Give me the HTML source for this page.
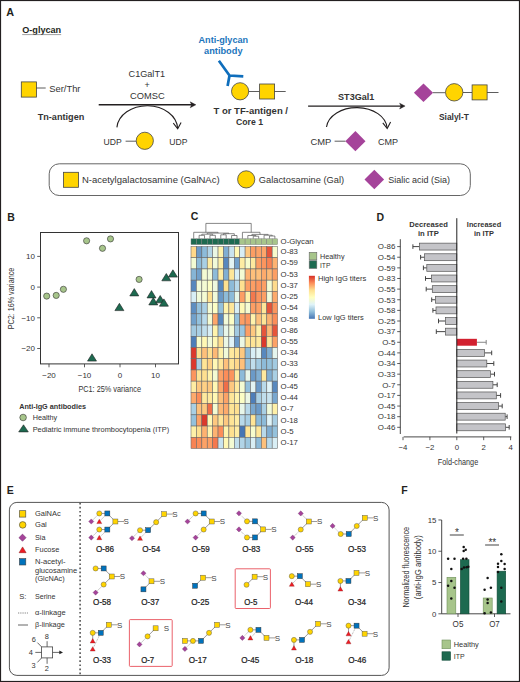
<!DOCTYPE html>
<html><head><meta charset="utf-8"><title>Figure</title>
<style>html,body{margin:0;padding:0;background:#fff;} body{width:520px;height:682px;overflow:hidden;font-family:"Liberation Sans", sans-serif;} svg{display:block;}</style>
</head><body>
<svg width="520" height="682" viewBox="0 0 520 682" font-family='"Liberation Sans", sans-serif'><rect x="0.5" y="0.5" width="519" height="681" fill="#fff" stroke="#231F20" stroke-width="1.2"/>
<text x="6.30" y="16.40" font-size="10.8" font-weight="bold" text-anchor="start" fill="#231F20" >A</text>
<text x="22.20" y="33.00" font-size="9.1" font-weight="bold" text-anchor="start" fill="#231F20" textLength="39.00" lengthAdjust="spacingAndGlyphs" >O-glycan</text>
<line x1="22.20" y1="34.60" x2="61.20" y2="34.60" stroke="#777" stroke-width="0.7" />
<rect x="21.30" y="81.90" width="15.20" height="15.20" fill="#FFD400" stroke="#444" stroke-width="0.8"/>
<line x1="36.50" y1="88.00" x2="45.70" y2="88.00" stroke="#333" stroke-width="0.8" />
<text x="49.20" y="91.50" font-size="9.4" font-weight="normal" text-anchor="start" fill="#333" textLength="31.30" lengthAdjust="spacingAndGlyphs" >Ser/Thr</text>
<text x="37.70" y="119.70" font-size="9.1" font-weight="bold" text-anchor="start" fill="#333" textLength="46.60" lengthAdjust="spacingAndGlyphs" >Tn-antigen</text>
<line x1="98.70" y1="104.80" x2="192.00" y2="104.80" stroke="#231F20" stroke-width="1.4" />
<polygon points="195.9,104.8 190.2,101.8 191.6,104.8 190.2,107.8" fill="#231F20" stroke="#231F20" stroke-width="0.4"/>
<text x="146.80" y="76.90" font-size="9.1" font-weight="normal" text-anchor="middle" fill="#333" textLength="36.50" lengthAdjust="spacingAndGlyphs" >C1GalT1</text>
<text x="147.10" y="88.30" font-size="9" font-weight="normal" text-anchor="middle" fill="#333" >+</text>
<text x="147.30" y="99.40" font-size="9.3" font-weight="normal" text-anchor="middle" fill="#333" textLength="34.60" lengthAdjust="spacingAndGlyphs" >COMSC</text>
<path d="M116.9,127.4 A30.4,23.4 0 0 1 177.6,128.3" fill="none" stroke="#231F20" stroke-width="1.1"/>
<path d="M173.3,123.2 L177.7,128.8 L181.1,122.4" fill="none" stroke="#231F20" stroke-width="1.1"/>
<text x="103.50" y="144.60" font-size="9" font-weight="normal" text-anchor="start" fill="#333" textLength="18.20" lengthAdjust="spacingAndGlyphs" >UDP</text>
<line x1="125.60" y1="141.20" x2="136.20" y2="141.20" stroke="#333" stroke-width="0.8" />
<circle cx="144.80" cy="140.80" r="8.60" fill="#FFD400" stroke="#444" stroke-width="0.8"/>
<text x="169.20" y="144.60" font-size="9" font-weight="normal" text-anchor="start" fill="#333" textLength="18.20" lengthAdjust="spacingAndGlyphs" >UDP</text>
<text x="223.30" y="42.80" font-size="9.1" font-weight="bold" text-anchor="middle" fill="#1B75BC" textLength="49.60" lengthAdjust="spacingAndGlyphs" >Anti-glycan</text>
<text x="223.30" y="53.80" font-size="9.2" font-weight="bold" text-anchor="middle" fill="#1B75BC" textLength="38.50" lengthAdjust="spacingAndGlyphs" >antibody</text>
<path d="M218.9,60.8 L229.5,75.5 L243.3,76.4 M229.5,75.5 L227.6,86.1" fill="none" stroke="#0F6EBC" stroke-width="2.7" stroke-linejoin="miter"/>
<circle cx="240.10" cy="91.30" r="8.60" fill="#FFD400" stroke="#444" stroke-width="0.8"/>
<line x1="248.70" y1="91.50" x2="259.60" y2="91.50" stroke="#333" stroke-width="0.8" />
<rect x="259.60" y="84.00" width="15.00" height="15.00" fill="#FFD400" stroke="#444" stroke-width="0.8"/>
<line x1="274.60" y1="91.50" x2="285.70" y2="91.50" stroke="#333" stroke-width="0.8" />
<text x="213.50" y="113.90" font-size="9.5" font-weight="bold" text-anchor="start" fill="#333" textLength="74.50" lengthAdjust="spacingAndGlyphs" >T or TF-antigen /</text>
<text x="236.00" y="125.40" font-size="8.7" font-weight="bold" text-anchor="start" fill="#333" textLength="27.00" lengthAdjust="spacingAndGlyphs" >Core 1</text>
<line x1="308.10" y1="106.10" x2="401.50" y2="106.10" stroke="#231F20" stroke-width="1.4" />
<polygon points="405.1,106.1 399.6,103.2 401,106.1 399.6,109" fill="#231F20" stroke="#231F20" stroke-width="0.4"/>
<text x="338.10" y="99.90" font-size="9" font-weight="bold" text-anchor="start" fill="#333" textLength="36.20" lengthAdjust="spacingAndGlyphs" >ST3Gal1</text>
<path d="M326.5,127.0 A30.4,21.6 0 0 1 387.1,128.0" fill="none" stroke="#231F20" stroke-width="1.1"/>
<path d="M382.8,122.9 L387.2,128.5 L390.6,122.1" fill="none" stroke="#231F20" stroke-width="1.1"/>
<text x="310.40" y="144.90" font-size="9.4" font-weight="normal" text-anchor="start" fill="#333" textLength="20.80" lengthAdjust="spacingAndGlyphs" >CMP</text>
<line x1="334.60" y1="141.20" x2="345.50" y2="141.20" stroke="#333" stroke-width="0.8" />
<polygon points="345.30,141.20 355.40,131.10 365.50,141.20 355.40,151.30" fill="#A5439A" stroke="none" stroke-width="0.0"/>
<text x="378.00" y="144.90" font-size="9.4" font-weight="normal" text-anchor="start" fill="#333" textLength="20.10" lengthAdjust="spacingAndGlyphs" >CMP</text>
<polygon points="413.90,92.70 423.50,83.40 433.10,92.70 423.50,102.00" fill="#A5439A" stroke="none" stroke-width="0.0"/>
<line x1="433.00" y1="92.70" x2="445.40" y2="92.70" stroke="#333" stroke-width="0.8" />
<circle cx="454.20" cy="92.30" r="8.70" fill="#FFD400" stroke="#444" stroke-width="0.8"/>
<line x1="463.00" y1="92.50" x2="472.10" y2="92.50" stroke="#333" stroke-width="0.8" />
<rect x="472.10" y="84.90" width="15.00" height="15.00" fill="#FFD400" stroke="#444" stroke-width="0.8"/>
<line x1="487.10" y1="92.50" x2="498.50" y2="92.50" stroke="#333" stroke-width="0.8" />
<text x="439.00" y="119.60" font-size="8.4" font-weight="bold" text-anchor="start" fill="#333" textLength="29.80" lengthAdjust="spacingAndGlyphs" >Sialyl-T</text>
<rect x="49.2" y="163.8" width="421.1" height="31.7" rx="10" ry="10" fill="none" stroke="#666" stroke-width="1"/>
<rect x="63.50" y="172.30" width="15.00" height="15.00" fill="#FFD400" stroke="#444" stroke-width="0.8"/>
<text x="81.90" y="183.10" font-size="9.5" font-weight="normal" text-anchor="start" fill="#333" textLength="137.70" lengthAdjust="spacingAndGlyphs" >N-acetylgalactosamine (GalNAc)</text>
<circle cx="246.20" cy="179.40" r="8.60" fill="#FFD400" stroke="#444" stroke-width="0.8"/>
<text x="258.80" y="183.10" font-size="9.3" font-weight="normal" text-anchor="start" fill="#333" textLength="85.40" lengthAdjust="spacingAndGlyphs" >Galactosamine (Gal)</text>
<polygon points="364.50,179.50 374.30,169.70 384.10,179.50 374.30,189.30" fill="#A5439A" stroke="none" stroke-width="0.0"/>
<text x="388.20" y="182.90" font-size="9.0" font-weight="normal" text-anchor="start" fill="#333" textLength="61.80" lengthAdjust="spacingAndGlyphs" >Sialic acid (Sia)</text>
<text x="7.30" y="220.60" font-size="10.5" font-weight="bold" text-anchor="start" fill="#231F20" >B</text>
<rect x="40.5" y="232.5" width="138.0" height="131.4" fill="none" stroke="#333" stroke-width="1"/>
<line x1="49.00" y1="364.00" x2="49.00" y2="367.30" stroke="#333" stroke-width="0.8" />
<text x="49.00" y="377.50" font-size="8.0" font-weight="normal" text-anchor="middle" fill="#333" >&#8722;20</text>
<line x1="84.50" y1="364.00" x2="84.50" y2="367.30" stroke="#333" stroke-width="0.8" />
<text x="84.50" y="377.50" font-size="8.0" font-weight="normal" text-anchor="middle" fill="#333" >&#8722;10</text>
<line x1="120.00" y1="364.00" x2="120.00" y2="367.30" stroke="#333" stroke-width="0.8" />
<text x="120.00" y="377.50" font-size="8.0" font-weight="normal" text-anchor="middle" fill="#333" >0</text>
<line x1="155.50" y1="364.00" x2="155.50" y2="367.30" stroke="#333" stroke-width="0.8" />
<text x="155.50" y="377.50" font-size="8.0" font-weight="normal" text-anchor="middle" fill="#333" >10</text>
<line x1="37.20" y1="256.40" x2="40.50" y2="256.40" stroke="#333" stroke-width="0.8" />
<text x="35.00" y="259.30" font-size="8.0" font-weight="normal" text-anchor="end" fill="#333" >10</text>
<line x1="37.20" y1="287.10" x2="40.50" y2="287.10" stroke="#333" stroke-width="0.8" />
<text x="35.00" y="290.00" font-size="8.0" font-weight="normal" text-anchor="end" fill="#333" >0</text>
<line x1="37.20" y1="317.80" x2="40.50" y2="317.80" stroke="#333" stroke-width="0.8" />
<text x="35.00" y="320.70" font-size="8.0" font-weight="normal" text-anchor="end" fill="#333" >&#8722;10</text>
<line x1="37.20" y1="348.50" x2="40.50" y2="348.50" stroke="#333" stroke-width="0.8" />
<text x="35.00" y="351.40" font-size="8.0" font-weight="normal" text-anchor="end" fill="#333" >&#8722;20</text>
<text x="109.70" y="392.00" font-size="8.6" font-weight="normal" text-anchor="middle" fill="#333" textLength="62.60" lengthAdjust="spacingAndGlyphs" >PC1: 25% variance</text>
<text transform="translate(14.2,298.5) rotate(-90)" x="0" y="0" font-size="8.6" text-anchor="middle" fill="#333" textLength="61.7" lengthAdjust="spacingAndGlyphs">PC2: 16% variance</text>
<circle cx="86.60" cy="240.80" r="3.10" fill="#A7C58B" stroke="#333" stroke-width="0.6"/>
<circle cx="102.50" cy="248.30" r="3.10" fill="#A7C58B" stroke="#333" stroke-width="0.6"/>
<circle cx="110.50" cy="238.90" r="3.10" fill="#A7C58B" stroke="#333" stroke-width="0.6"/>
<circle cx="46.70" cy="296.10" r="3.10" fill="#A7C58B" stroke="#333" stroke-width="0.6"/>
<circle cx="56.20" cy="295.40" r="3.10" fill="#A7C58B" stroke="#333" stroke-width="0.6"/>
<circle cx="63.40" cy="289.30" r="3.10" fill="#A7C58B" stroke="#333" stroke-width="0.6"/>
<circle cx="139.10" cy="279.40" r="3.10" fill="#A7C58B" stroke="#333" stroke-width="0.6"/>
<polygon points="92.00,353.80 96.50,361.10 87.50,361.10" fill="#1D6A50" stroke="#222" stroke-width="0.6" stroke-linejoin="miter"/>
<polygon points="119.40,303.30 123.90,310.60 114.90,310.60" fill="#1D6A50" stroke="#222" stroke-width="0.6" stroke-linejoin="miter"/>
<polygon points="134.30,288.60 138.80,295.90 129.80,295.90" fill="#1D6A50" stroke="#222" stroke-width="0.6" stroke-linejoin="miter"/>
<polygon points="151.50,290.60 156.00,297.90 147.00,297.90" fill="#1D6A50" stroke="#222" stroke-width="0.6" stroke-linejoin="miter"/>
<polygon points="153.30,297.60 157.80,304.90 148.80,304.90" fill="#1D6A50" stroke="#222" stroke-width="0.6" stroke-linejoin="miter"/>
<polygon points="160.20,295.50 164.70,302.80 155.70,302.80" fill="#1D6A50" stroke="#222" stroke-width="0.6" stroke-linejoin="miter"/>
<polygon points="163.90,298.90 168.40,306.20 159.40,306.20" fill="#1D6A50" stroke="#222" stroke-width="0.6" stroke-linejoin="miter"/>
<polygon points="166.30,273.50 170.80,280.80 161.80,280.80" fill="#1D6A50" stroke="#222" stroke-width="0.6" stroke-linejoin="miter"/>
<polygon points="172.90,269.80 177.40,277.10 168.40,277.10" fill="#1D6A50" stroke="#222" stroke-width="0.6" stroke-linejoin="miter"/>
<text x="19.20" y="408.80" font-size="7.5" font-weight="bold" text-anchor="start" fill="#333" textLength="66.80" lengthAdjust="spacingAndGlyphs" >Anti-IgG antibodies</text>
<circle cx="23.10" cy="417.50" r="3.30" fill="#A7C58B" stroke="#333" stroke-width="0.6"/>
<text x="32.70" y="420.20" font-size="7.5" font-weight="normal" text-anchor="start" fill="#333" textLength="24.50" lengthAdjust="spacingAndGlyphs" >Healthy</text>
<polygon points="23.50,424.80 28.30,431.90 18.70,431.90" fill="#1D6A50" stroke="#222" stroke-width="0.6" stroke-linejoin="miter"/>
<text x="32.70" y="431.60" font-size="7.5" font-weight="normal" text-anchor="start" fill="#333" textLength="136.50" lengthAdjust="spacingAndGlyphs" >Pediatric immune thrombocytopenia (ITP)</text>
<text x="190.80" y="220.30" font-size="10.5" font-weight="bold" text-anchor="start" fill="#231F20" >C</text>
<rect x="191.00" y="246.50" width="5.41" height="11.22" fill="#FED88A" stroke="#666" stroke-width="0.55"/>
<rect x="196.41" y="246.50" width="5.41" height="11.22" fill="#6B9AC8" stroke="#666" stroke-width="0.55"/>
<rect x="201.82" y="246.50" width="5.41" height="11.22" fill="#8DBBD9" stroke="#666" stroke-width="0.55"/>
<rect x="207.24" y="246.50" width="5.41" height="11.22" fill="#B1D4E7" stroke="#666" stroke-width="0.55"/>
<rect x="212.65" y="246.50" width="5.41" height="11.22" fill="#EBF7E4" stroke="#666" stroke-width="0.55"/>
<rect x="218.06" y="246.50" width="5.41" height="11.22" fill="#FFF3AC" stroke="#666" stroke-width="0.55"/>
<rect x="223.48" y="246.50" width="5.41" height="11.22" fill="#80AED2" stroke="#666" stroke-width="0.55"/>
<rect x="228.89" y="246.50" width="5.41" height="11.22" fill="#C8E3EF" stroke="#666" stroke-width="0.55"/>
<rect x="234.30" y="246.50" width="5.41" height="11.22" fill="#FFF8B5" stroke="#666" stroke-width="0.55"/>
<rect x="239.71" y="246.50" width="5.41" height="11.22" fill="#D8EEF5" stroke="#666" stroke-width="0.55"/>
<rect x="245.12" y="246.50" width="5.41" height="11.22" fill="#FDC880" stroke="#666" stroke-width="0.55"/>
<rect x="250.54" y="246.50" width="5.41" height="11.22" fill="#FC9E64" stroke="#666" stroke-width="0.55"/>
<rect x="255.95" y="246.50" width="5.41" height="11.22" fill="#FCA267" stroke="#666" stroke-width="0.55"/>
<rect x="261.36" y="246.50" width="5.41" height="11.22" fill="#FDA66A" stroke="#666" stroke-width="0.55"/>
<rect x="266.78" y="246.50" width="5.41" height="11.22" fill="#E6553B" stroke="#666" stroke-width="0.55"/>
<rect x="272.19" y="246.50" width="5.41" height="11.22" fill="#F7FCCD" stroke="#666" stroke-width="0.55"/>
<text x="280.60" y="254.21" font-size="7.8" font-weight="normal" text-anchor="start" fill="#333" >O-83</text>
<rect x="191.00" y="257.72" width="5.41" height="11.22" fill="#F4FBD3" stroke="#666" stroke-width="0.55"/>
<rect x="196.41" y="257.72" width="5.41" height="11.22" fill="#8DBBD9" stroke="#666" stroke-width="0.55"/>
<rect x="201.82" y="257.72" width="5.41" height="11.22" fill="#A9CFE4" stroke="#666" stroke-width="0.55"/>
<rect x="207.24" y="257.72" width="5.41" height="11.22" fill="#FEECA3" stroke="#666" stroke-width="0.55"/>
<rect x="212.65" y="257.72" width="5.41" height="11.22" fill="#F1FAD9" stroke="#666" stroke-width="0.55"/>
<rect x="218.06" y="257.72" width="5.41" height="11.22" fill="#FEF0A8" stroke="#666" stroke-width="0.55"/>
<rect x="223.48" y="257.72" width="5.41" height="11.22" fill="#5888BE" stroke="#666" stroke-width="0.55"/>
<rect x="228.89" y="257.72" width="5.41" height="11.22" fill="#E3F4F3" stroke="#666" stroke-width="0.55"/>
<rect x="234.30" y="257.72" width="5.41" height="11.22" fill="#72A1CB" stroke="#666" stroke-width="0.55"/>
<rect x="239.71" y="257.72" width="5.41" height="11.22" fill="#FEECA3" stroke="#666" stroke-width="0.55"/>
<rect x="245.12" y="257.72" width="5.41" height="11.22" fill="#F7FCCD" stroke="#666" stroke-width="0.55"/>
<rect x="250.54" y="257.72" width="5.41" height="11.22" fill="#FEE99E" stroke="#666" stroke-width="0.55"/>
<rect x="255.95" y="257.72" width="5.41" height="11.22" fill="#FC9E64" stroke="#666" stroke-width="0.55"/>
<rect x="261.36" y="257.72" width="5.41" height="11.22" fill="#FC955E" stroke="#666" stroke-width="0.55"/>
<rect x="266.78" y="257.72" width="5.41" height="11.22" fill="#F88354" stroke="#666" stroke-width="0.55"/>
<rect x="272.19" y="257.72" width="5.41" height="11.22" fill="#FDB271" stroke="#666" stroke-width="0.55"/>
<text x="280.60" y="265.43" font-size="7.8" font-weight="normal" text-anchor="start" fill="#333" >O-59</text>
<rect x="191.00" y="268.94" width="5.41" height="11.22" fill="#86B5D6" stroke="#666" stroke-width="0.55"/>
<rect x="196.41" y="268.94" width="5.41" height="11.22" fill="#72A1CB" stroke="#666" stroke-width="0.55"/>
<rect x="201.82" y="268.94" width="5.41" height="11.22" fill="#F4FBD3" stroke="#666" stroke-width="0.55"/>
<rect x="207.24" y="268.94" width="5.41" height="11.22" fill="#F1FAD9" stroke="#666" stroke-width="0.55"/>
<rect x="212.65" y="268.94" width="5.41" height="11.22" fill="#8DBBD9" stroke="#666" stroke-width="0.55"/>
<rect x="218.06" y="268.94" width="5.41" height="11.22" fill="#FEECA3" stroke="#666" stroke-width="0.55"/>
<rect x="223.48" y="268.94" width="5.41" height="11.22" fill="#80AED2" stroke="#666" stroke-width="0.55"/>
<rect x="228.89" y="268.94" width="5.41" height="11.22" fill="#FEE699" stroke="#666" stroke-width="0.55"/>
<rect x="234.30" y="268.94" width="5.41" height="11.22" fill="#D8EEF5" stroke="#666" stroke-width="0.55"/>
<rect x="239.71" y="268.94" width="5.41" height="11.22" fill="#F4FBD3" stroke="#666" stroke-width="0.55"/>
<rect x="245.12" y="268.94" width="5.41" height="11.22" fill="#FDB271" stroke="#666" stroke-width="0.55"/>
<rect x="250.54" y="268.94" width="5.41" height="11.22" fill="#FDC07B" stroke="#666" stroke-width="0.55"/>
<rect x="255.95" y="268.94" width="5.41" height="11.22" fill="#FDC07B" stroke="#666" stroke-width="0.55"/>
<rect x="261.36" y="268.94" width="5.41" height="11.22" fill="#FDAA6C" stroke="#666" stroke-width="0.55"/>
<rect x="266.78" y="268.94" width="5.41" height="11.22" fill="#FDB976" stroke="#666" stroke-width="0.55"/>
<rect x="272.19" y="268.94" width="5.41" height="11.22" fill="#FC9E64" stroke="#666" stroke-width="0.55"/>
<text x="280.60" y="276.66" font-size="7.8" font-weight="normal" text-anchor="start" fill="#333" >O-53</text>
<rect x="191.00" y="280.17" width="5.41" height="11.22" fill="#5888BE" stroke="#666" stroke-width="0.55"/>
<rect x="196.41" y="280.17" width="5.41" height="11.22" fill="#F1FAD9" stroke="#666" stroke-width="0.55"/>
<rect x="201.82" y="280.17" width="5.41" height="11.22" fill="#F4FBD3" stroke="#666" stroke-width="0.55"/>
<rect x="207.24" y="280.17" width="5.41" height="11.22" fill="#FCFEC5" stroke="#666" stroke-width="0.55"/>
<rect x="212.65" y="280.17" width="5.41" height="11.22" fill="#EEF8DE" stroke="#666" stroke-width="0.55"/>
<rect x="218.06" y="280.17" width="5.41" height="11.22" fill="#5888BE" stroke="#666" stroke-width="0.55"/>
<rect x="223.48" y="280.17" width="5.41" height="11.22" fill="#FEE090" stroke="#666" stroke-width="0.55"/>
<rect x="228.89" y="280.17" width="5.41" height="11.22" fill="#8DBBD9" stroke="#666" stroke-width="0.55"/>
<rect x="234.30" y="280.17" width="5.41" height="11.22" fill="#B8D9EA" stroke="#666" stroke-width="0.55"/>
<rect x="239.71" y="280.17" width="5.41" height="11.22" fill="#FEE090" stroke="#666" stroke-width="0.55"/>
<rect x="245.12" y="280.17" width="5.41" height="11.22" fill="#FC9E64" stroke="#666" stroke-width="0.55"/>
<rect x="250.54" y="280.17" width="5.41" height="11.22" fill="#FC9E64" stroke="#666" stroke-width="0.55"/>
<rect x="255.95" y="280.17" width="5.41" height="11.22" fill="#FC955E" stroke="#666" stroke-width="0.55"/>
<rect x="261.36" y="280.17" width="5.41" height="11.22" fill="#FC9E64" stroke="#666" stroke-width="0.55"/>
<rect x="266.78" y="280.17" width="5.41" height="11.22" fill="#F4FBD3" stroke="#666" stroke-width="0.55"/>
<rect x="272.19" y="280.17" width="5.41" height="11.22" fill="#FEDA8C" stroke="#666" stroke-width="0.55"/>
<text x="280.60" y="287.88" font-size="7.8" font-weight="normal" text-anchor="start" fill="#333" >O-37</text>
<rect x="191.00" y="291.39" width="5.41" height="11.22" fill="#D8EEF5" stroke="#666" stroke-width="0.55"/>
<rect x="196.41" y="291.39" width="5.41" height="11.22" fill="#F1FAD9" stroke="#666" stroke-width="0.55"/>
<rect x="201.82" y="291.39" width="5.41" height="11.22" fill="#F4FBD3" stroke="#666" stroke-width="0.55"/>
<rect x="207.24" y="291.39" width="5.41" height="11.22" fill="#FEE090" stroke="#666" stroke-width="0.55"/>
<rect x="212.65" y="291.39" width="5.41" height="11.22" fill="#F1FAD9" stroke="#666" stroke-width="0.55"/>
<rect x="218.06" y="291.39" width="5.41" height="11.22" fill="#6B9AC8" stroke="#666" stroke-width="0.55"/>
<rect x="223.48" y="291.39" width="5.41" height="11.22" fill="#8DBBD9" stroke="#666" stroke-width="0.55"/>
<rect x="228.89" y="291.39" width="5.41" height="11.22" fill="#8DBBD9" stroke="#666" stroke-width="0.55"/>
<rect x="234.30" y="291.39" width="5.41" height="11.22" fill="#E8F6E9" stroke="#666" stroke-width="0.55"/>
<rect x="239.71" y="291.39" width="5.41" height="11.22" fill="#FC9E64" stroke="#666" stroke-width="0.55"/>
<rect x="245.12" y="291.39" width="5.41" height="11.22" fill="#FEF0A8" stroke="#666" stroke-width="0.55"/>
<rect x="250.54" y="291.39" width="5.41" height="11.22" fill="#F4794E" stroke="#666" stroke-width="0.55"/>
<rect x="255.95" y="291.39" width="5.41" height="11.22" fill="#FC955E" stroke="#666" stroke-width="0.55"/>
<rect x="261.36" y="291.39" width="5.41" height="11.22" fill="#FC9E64" stroke="#666" stroke-width="0.55"/>
<rect x="266.78" y="291.39" width="5.41" height="11.22" fill="#F1FAD9" stroke="#666" stroke-width="0.55"/>
<rect x="272.19" y="291.39" width="5.41" height="11.22" fill="#FDAA6C" stroke="#666" stroke-width="0.55"/>
<text x="280.60" y="299.10" font-size="7.8" font-weight="normal" text-anchor="start" fill="#333" >O-25</text>
<rect x="191.00" y="302.61" width="5.41" height="11.22" fill="#5E8EC1" stroke="#666" stroke-width="0.55"/>
<rect x="196.41" y="302.61" width="5.41" height="11.22" fill="#94C1DC" stroke="#666" stroke-width="0.55"/>
<rect x="201.82" y="302.61" width="5.41" height="11.22" fill="#A9CFE4" stroke="#666" stroke-width="0.55"/>
<rect x="207.24" y="302.61" width="5.41" height="11.22" fill="#F4FBD3" stroke="#666" stroke-width="0.55"/>
<rect x="212.65" y="302.61" width="5.41" height="11.22" fill="#FCFEC5" stroke="#666" stroke-width="0.55"/>
<rect x="218.06" y="302.61" width="5.41" height="11.22" fill="#94C1DC" stroke="#666" stroke-width="0.55"/>
<rect x="223.48" y="302.61" width="5.41" height="11.22" fill="#FFF3AC" stroke="#666" stroke-width="0.55"/>
<rect x="228.89" y="302.61" width="5.41" height="11.22" fill="#FEE699" stroke="#666" stroke-width="0.55"/>
<rect x="234.30" y="302.61" width="5.41" height="11.22" fill="#D8EEF5" stroke="#666" stroke-width="0.55"/>
<rect x="239.71" y="302.61" width="5.41" height="11.22" fill="#FFF8B5" stroke="#666" stroke-width="0.55"/>
<rect x="245.12" y="302.61" width="5.41" height="11.22" fill="#F4FBD3" stroke="#666" stroke-width="0.55"/>
<rect x="250.54" y="302.61" width="5.41" height="11.22" fill="#FC9E64" stroke="#666" stroke-width="0.55"/>
<rect x="255.95" y="302.61" width="5.41" height="11.22" fill="#FCA267" stroke="#666" stroke-width="0.55"/>
<rect x="261.36" y="302.61" width="5.41" height="11.22" fill="#FEE699" stroke="#666" stroke-width="0.55"/>
<rect x="266.78" y="302.61" width="5.41" height="11.22" fill="#E6553B" stroke="#666" stroke-width="0.55"/>
<rect x="272.19" y="302.61" width="5.41" height="11.22" fill="#FC955E" stroke="#666" stroke-width="0.55"/>
<text x="280.60" y="310.32" font-size="7.8" font-weight="normal" text-anchor="start" fill="#333" >O-54</text>
<rect x="191.00" y="313.83" width="5.41" height="11.22" fill="#72A1CB" stroke="#666" stroke-width="0.55"/>
<rect x="196.41" y="313.83" width="5.41" height="11.22" fill="#94C1DC" stroke="#666" stroke-width="0.55"/>
<rect x="201.82" y="313.83" width="5.41" height="11.22" fill="#B8D9EA" stroke="#666" stroke-width="0.55"/>
<rect x="207.24" y="313.83" width="5.41" height="11.22" fill="#F4FBD3" stroke="#666" stroke-width="0.55"/>
<rect x="212.65" y="313.83" width="5.41" height="11.22" fill="#FDA66A" stroke="#666" stroke-width="0.55"/>
<rect x="218.06" y="313.83" width="5.41" height="11.22" fill="#5888BE" stroke="#666" stroke-width="0.55"/>
<rect x="223.48" y="313.83" width="5.41" height="11.22" fill="#F1FAD9" stroke="#666" stroke-width="0.55"/>
<rect x="228.89" y="313.83" width="5.41" height="11.22" fill="#FCFEC5" stroke="#666" stroke-width="0.55"/>
<rect x="234.30" y="313.83" width="5.41" height="11.22" fill="#94C1DC" stroke="#666" stroke-width="0.55"/>
<rect x="239.71" y="313.83" width="5.41" height="11.22" fill="#FC9E64" stroke="#666" stroke-width="0.55"/>
<rect x="245.12" y="313.83" width="5.41" height="11.22" fill="#FC955E" stroke="#666" stroke-width="0.55"/>
<rect x="250.54" y="313.83" width="5.41" height="11.22" fill="#FFF3AC" stroke="#666" stroke-width="0.55"/>
<rect x="255.95" y="313.83" width="5.41" height="11.22" fill="#FDC07B" stroke="#666" stroke-width="0.55"/>
<rect x="261.36" y="313.83" width="5.41" height="11.22" fill="#FEE496" stroke="#666" stroke-width="0.55"/>
<rect x="266.78" y="313.83" width="5.41" height="11.22" fill="#FDB271" stroke="#666" stroke-width="0.55"/>
<rect x="272.19" y="313.83" width="5.41" height="11.22" fill="#FC8D59" stroke="#666" stroke-width="0.55"/>
<text x="280.60" y="321.54" font-size="7.8" font-weight="normal" text-anchor="start" fill="#333" >O-58</text>
<rect x="191.00" y="325.06" width="5.41" height="11.22" fill="#A2CAE1" stroke="#666" stroke-width="0.55"/>
<rect x="196.41" y="325.06" width="5.41" height="11.22" fill="#A9CFE4" stroke="#666" stroke-width="0.55"/>
<rect x="201.82" y="325.06" width="5.41" height="11.22" fill="#C0DEEC" stroke="#666" stroke-width="0.55"/>
<rect x="207.24" y="325.06" width="5.41" height="11.22" fill="#D8EEF5" stroke="#666" stroke-width="0.55"/>
<rect x="212.65" y="325.06" width="5.41" height="11.22" fill="#FFF3AC" stroke="#666" stroke-width="0.55"/>
<rect x="218.06" y="325.06" width="5.41" height="11.22" fill="#A2CAE1" stroke="#666" stroke-width="0.55"/>
<rect x="223.48" y="325.06" width="5.41" height="11.22" fill="#E8F6E9" stroke="#666" stroke-width="0.55"/>
<rect x="228.89" y="325.06" width="5.41" height="11.22" fill="#F1FAD9" stroke="#666" stroke-width="0.55"/>
<rect x="234.30" y="325.06" width="5.41" height="11.22" fill="#A2CAE1" stroke="#666" stroke-width="0.55"/>
<rect x="239.71" y="325.06" width="5.41" height="11.22" fill="#9BC6DF" stroke="#666" stroke-width="0.55"/>
<rect x="245.12" y="325.06" width="5.41" height="11.22" fill="#FC9E64" stroke="#666" stroke-width="0.55"/>
<rect x="250.54" y="325.06" width="5.41" height="11.22" fill="#FDC880" stroke="#666" stroke-width="0.55"/>
<rect x="255.95" y="325.06" width="5.41" height="11.22" fill="#FEF0A8" stroke="#666" stroke-width="0.55"/>
<rect x="261.36" y="325.06" width="5.41" height="11.22" fill="#E6553B" stroke="#666" stroke-width="0.55"/>
<rect x="266.78" y="325.06" width="5.41" height="11.22" fill="#FDB976" stroke="#666" stroke-width="0.55"/>
<rect x="272.19" y="325.06" width="5.41" height="11.22" fill="#E6553B" stroke="#666" stroke-width="0.55"/>
<text x="280.60" y="332.77" font-size="7.8" font-weight="normal" text-anchor="start" fill="#333" >O-86</text>
<rect x="191.00" y="336.28" width="5.41" height="11.22" fill="#4E7EB9" stroke="#666" stroke-width="0.55"/>
<rect x="196.41" y="336.28" width="5.41" height="11.22" fill="#F7FCCD" stroke="#666" stroke-width="0.55"/>
<rect x="201.82" y="336.28" width="5.41" height="11.22" fill="#FFF8B5" stroke="#666" stroke-width="0.55"/>
<rect x="207.24" y="336.28" width="5.41" height="11.22" fill="#F1FAD9" stroke="#666" stroke-width="0.55"/>
<rect x="212.65" y="336.28" width="5.41" height="11.22" fill="#FFF8B5" stroke="#666" stroke-width="0.55"/>
<rect x="218.06" y="336.28" width="5.41" height="11.22" fill="#FEDD8E" stroke="#666" stroke-width="0.55"/>
<rect x="223.48" y="336.28" width="5.41" height="11.22" fill="#EBF7E4" stroke="#666" stroke-width="0.55"/>
<rect x="228.89" y="336.28" width="5.41" height="11.22" fill="#E0F3F8" stroke="#666" stroke-width="0.55"/>
<rect x="234.30" y="336.28" width="5.41" height="11.22" fill="#6B9AC8" stroke="#666" stroke-width="0.55"/>
<rect x="239.71" y="336.28" width="5.41" height="11.22" fill="#EBF7E4" stroke="#666" stroke-width="0.55"/>
<rect x="245.12" y="336.28" width="5.41" height="11.22" fill="#FEE496" stroke="#666" stroke-width="0.55"/>
<rect x="250.54" y="336.28" width="5.41" height="11.22" fill="#FEE496" stroke="#666" stroke-width="0.55"/>
<rect x="255.95" y="336.28" width="5.41" height="11.22" fill="#FEE99E" stroke="#666" stroke-width="0.55"/>
<rect x="261.36" y="336.28" width="5.41" height="11.22" fill="#DB392C" stroke="#666" stroke-width="0.55"/>
<rect x="266.78" y="336.28" width="5.41" height="11.22" fill="#FEE699" stroke="#666" stroke-width="0.55"/>
<rect x="272.19" y="336.28" width="5.41" height="11.22" fill="#FCA267" stroke="#666" stroke-width="0.55"/>
<text x="280.60" y="343.99" font-size="7.8" font-weight="normal" text-anchor="start" fill="#333" >O-55</text>
<rect x="191.00" y="347.50" width="5.41" height="11.22" fill="#DB392C" stroke="#666" stroke-width="0.55"/>
<rect x="196.41" y="347.50" width="5.41" height="11.22" fill="#FEE090" stroke="#666" stroke-width="0.55"/>
<rect x="201.82" y="347.50" width="5.41" height="11.22" fill="#FDC07B" stroke="#666" stroke-width="0.55"/>
<rect x="207.24" y="347.50" width="5.41" height="11.22" fill="#FEE090" stroke="#666" stroke-width="0.55"/>
<rect x="212.65" y="347.50" width="5.41" height="11.22" fill="#FDB976" stroke="#666" stroke-width="0.55"/>
<rect x="218.06" y="347.50" width="5.41" height="11.22" fill="#FEF0A8" stroke="#666" stroke-width="0.55"/>
<rect x="223.48" y="347.50" width="5.41" height="11.22" fill="#F1FAD9" stroke="#666" stroke-width="0.55"/>
<rect x="228.89" y="347.50" width="5.41" height="11.22" fill="#FEE99E" stroke="#666" stroke-width="0.55"/>
<rect x="234.30" y="347.50" width="5.41" height="11.22" fill="#FEE496" stroke="#666" stroke-width="0.55"/>
<rect x="239.71" y="347.50" width="5.41" height="11.22" fill="#FDC880" stroke="#666" stroke-width="0.55"/>
<rect x="245.12" y="347.50" width="5.41" height="11.22" fill="#8DBBD9" stroke="#666" stroke-width="0.55"/>
<rect x="250.54" y="347.50" width="5.41" height="11.22" fill="#D8EEF5" stroke="#666" stroke-width="0.55"/>
<rect x="255.95" y="347.50" width="5.41" height="11.22" fill="#E3F4F3" stroke="#666" stroke-width="0.55"/>
<rect x="261.36" y="347.50" width="5.41" height="11.22" fill="#5888BE" stroke="#666" stroke-width="0.55"/>
<rect x="266.78" y="347.50" width="5.41" height="11.22" fill="#80AED2" stroke="#666" stroke-width="0.55"/>
<rect x="272.19" y="347.50" width="5.41" height="11.22" fill="#E5F5EE" stroke="#666" stroke-width="0.55"/>
<text x="280.60" y="355.21" font-size="7.8" font-weight="normal" text-anchor="start" fill="#333" >O-34</text>
<rect x="191.00" y="358.72" width="5.41" height="11.22" fill="#DB392C" stroke="#666" stroke-width="0.55"/>
<rect x="196.41" y="358.72" width="5.41" height="11.22" fill="#A9CFE4" stroke="#666" stroke-width="0.55"/>
<rect x="201.82" y="358.72" width="5.41" height="11.22" fill="#FEE496" stroke="#666" stroke-width="0.55"/>
<rect x="207.24" y="358.72" width="5.41" height="11.22" fill="#FED085" stroke="#666" stroke-width="0.55"/>
<rect x="212.65" y="358.72" width="5.41" height="11.22" fill="#FFF8B5" stroke="#666" stroke-width="0.55"/>
<rect x="218.06" y="358.72" width="5.41" height="11.22" fill="#FEE699" stroke="#666" stroke-width="0.55"/>
<rect x="223.48" y="358.72" width="5.41" height="11.22" fill="#FDC07B" stroke="#666" stroke-width="0.55"/>
<rect x="228.89" y="358.72" width="5.41" height="11.22" fill="#FEE496" stroke="#666" stroke-width="0.55"/>
<rect x="234.30" y="358.72" width="5.41" height="11.22" fill="#FED88A" stroke="#666" stroke-width="0.55"/>
<rect x="239.71" y="358.72" width="5.41" height="11.22" fill="#FDC07B" stroke="#666" stroke-width="0.55"/>
<rect x="245.12" y="358.72" width="5.41" height="11.22" fill="#94C1DC" stroke="#666" stroke-width="0.55"/>
<rect x="250.54" y="358.72" width="5.41" height="11.22" fill="#C0DEEC" stroke="#666" stroke-width="0.55"/>
<rect x="255.95" y="358.72" width="5.41" height="11.22" fill="#A2CAE1" stroke="#666" stroke-width="0.55"/>
<rect x="261.36" y="358.72" width="5.41" height="11.22" fill="#8DBBD9" stroke="#666" stroke-width="0.55"/>
<rect x="266.78" y="358.72" width="5.41" height="11.22" fill="#94C1DC" stroke="#666" stroke-width="0.55"/>
<rect x="272.19" y="358.72" width="5.41" height="11.22" fill="#A2CAE1" stroke="#666" stroke-width="0.55"/>
<text x="280.60" y="366.43" font-size="7.8" font-weight="normal" text-anchor="start" fill="#333" >O-33</text>
<rect x="191.00" y="369.94" width="5.41" height="11.22" fill="#FC955E" stroke="#666" stroke-width="0.55"/>
<rect x="196.41" y="369.94" width="5.41" height="11.22" fill="#FEE496" stroke="#666" stroke-width="0.55"/>
<rect x="201.82" y="369.94" width="5.41" height="11.22" fill="#FEE090" stroke="#666" stroke-width="0.55"/>
<rect x="207.24" y="369.94" width="5.41" height="11.22" fill="#FFF3AC" stroke="#666" stroke-width="0.55"/>
<rect x="212.65" y="369.94" width="5.41" height="11.22" fill="#F4FBD3" stroke="#666" stroke-width="0.55"/>
<rect x="218.06" y="369.94" width="5.41" height="11.22" fill="#FCA267" stroke="#666" stroke-width="0.55"/>
<rect x="223.48" y="369.94" width="5.41" height="11.22" fill="#FC8D59" stroke="#666" stroke-width="0.55"/>
<rect x="228.89" y="369.94" width="5.41" height="11.22" fill="#FC955E" stroke="#666" stroke-width="0.55"/>
<rect x="234.30" y="369.94" width="5.41" height="11.22" fill="#FEECA3" stroke="#666" stroke-width="0.55"/>
<rect x="239.71" y="369.94" width="5.41" height="11.22" fill="#8DBBD9" stroke="#666" stroke-width="0.55"/>
<rect x="245.12" y="369.94" width="5.41" height="11.22" fill="#E8F6E9" stroke="#666" stroke-width="0.55"/>
<rect x="250.54" y="369.94" width="5.41" height="11.22" fill="#6B9AC8" stroke="#666" stroke-width="0.55"/>
<rect x="255.95" y="369.94" width="5.41" height="11.22" fill="#80AED2" stroke="#666" stroke-width="0.55"/>
<rect x="261.36" y="369.94" width="5.41" height="11.22" fill="#FEE99E" stroke="#666" stroke-width="0.55"/>
<rect x="266.78" y="369.94" width="5.41" height="11.22" fill="#80AED2" stroke="#666" stroke-width="0.55"/>
<rect x="272.19" y="369.94" width="5.41" height="11.22" fill="#A9CFE4" stroke="#666" stroke-width="0.55"/>
<text x="280.60" y="377.66" font-size="7.8" font-weight="normal" text-anchor="start" fill="#333" >O-46</text>
<rect x="191.00" y="381.17" width="5.41" height="11.22" fill="#FEECA3" stroke="#666" stroke-width="0.55"/>
<rect x="196.41" y="381.17" width="5.41" height="11.22" fill="#FDC880" stroke="#666" stroke-width="0.55"/>
<rect x="201.82" y="381.17" width="5.41" height="11.22" fill="#FED085" stroke="#666" stroke-width="0.55"/>
<rect x="207.24" y="381.17" width="5.41" height="11.22" fill="#FDC880" stroke="#666" stroke-width="0.55"/>
<rect x="212.65" y="381.17" width="5.41" height="11.22" fill="#FFF8B5" stroke="#666" stroke-width="0.55"/>
<rect x="218.06" y="381.17" width="5.41" height="11.22" fill="#FDAA6C" stroke="#666" stroke-width="0.55"/>
<rect x="223.48" y="381.17" width="5.41" height="11.22" fill="#F06E48" stroke="#666" stroke-width="0.55"/>
<rect x="228.89" y="381.17" width="5.41" height="11.22" fill="#FDC880" stroke="#666" stroke-width="0.55"/>
<rect x="234.30" y="381.17" width="5.41" height="11.22" fill="#FEE99E" stroke="#666" stroke-width="0.55"/>
<rect x="239.71" y="381.17" width="5.41" height="11.22" fill="#F4FBD3" stroke="#666" stroke-width="0.55"/>
<rect x="245.12" y="381.17" width="5.41" height="11.22" fill="#94C1DC" stroke="#666" stroke-width="0.55"/>
<rect x="250.54" y="381.17" width="5.41" height="11.22" fill="#E3F4F3" stroke="#666" stroke-width="0.55"/>
<rect x="255.95" y="381.17" width="5.41" height="11.22" fill="#6B9AC8" stroke="#666" stroke-width="0.55"/>
<rect x="261.36" y="381.17" width="5.41" height="11.22" fill="#B8D9EA" stroke="#666" stroke-width="0.55"/>
<rect x="266.78" y="381.17" width="5.41" height="11.22" fill="#E0F3F8" stroke="#666" stroke-width="0.55"/>
<rect x="272.19" y="381.17" width="5.41" height="11.22" fill="#5888BE" stroke="#666" stroke-width="0.55"/>
<text x="280.60" y="388.88" font-size="7.8" font-weight="normal" text-anchor="start" fill="#333" >O-45</text>
<rect x="191.00" y="392.39" width="5.41" height="11.22" fill="#FDAA6C" stroke="#666" stroke-width="0.55"/>
<rect x="196.41" y="392.39" width="5.41" height="11.22" fill="#FC8D59" stroke="#666" stroke-width="0.55"/>
<rect x="201.82" y="392.39" width="5.41" height="11.22" fill="#FEE99E" stroke="#666" stroke-width="0.55"/>
<rect x="207.24" y="392.39" width="5.41" height="11.22" fill="#FEE99E" stroke="#666" stroke-width="0.55"/>
<rect x="212.65" y="392.39" width="5.41" height="11.22" fill="#FFF8B5" stroke="#666" stroke-width="0.55"/>
<rect x="218.06" y="392.39" width="5.41" height="11.22" fill="#FDC07B" stroke="#666" stroke-width="0.55"/>
<rect x="223.48" y="392.39" width="5.41" height="11.22" fill="#FCA267" stroke="#666" stroke-width="0.55"/>
<rect x="228.89" y="392.39" width="5.41" height="11.22" fill="#FEE699" stroke="#666" stroke-width="0.55"/>
<rect x="234.30" y="392.39" width="5.41" height="11.22" fill="#FFF3AC" stroke="#666" stroke-width="0.55"/>
<rect x="239.71" y="392.39" width="5.41" height="11.22" fill="#FCFEC5" stroke="#666" stroke-width="0.55"/>
<rect x="245.12" y="392.39" width="5.41" height="11.22" fill="#EBF7E4" stroke="#666" stroke-width="0.55"/>
<rect x="250.54" y="392.39" width="5.41" height="11.22" fill="#4E7EB9" stroke="#666" stroke-width="0.55"/>
<rect x="255.95" y="392.39" width="5.41" height="11.22" fill="#A9CFE4" stroke="#666" stroke-width="0.55"/>
<rect x="261.36" y="392.39" width="5.41" height="11.22" fill="#C0DEEC" stroke="#666" stroke-width="0.55"/>
<rect x="266.78" y="392.39" width="5.41" height="11.22" fill="#C8E3EF" stroke="#666" stroke-width="0.55"/>
<rect x="272.19" y="392.39" width="5.41" height="11.22" fill="#79A7CF" stroke="#666" stroke-width="0.55"/>
<text x="280.60" y="400.10" font-size="7.8" font-weight="normal" text-anchor="start" fill="#333" >O-44</text>
<rect x="191.00" y="403.61" width="5.41" height="11.22" fill="#A9CFE4" stroke="#666" stroke-width="0.55"/>
<rect x="196.41" y="403.61" width="5.41" height="11.22" fill="#FDC07B" stroke="#666" stroke-width="0.55"/>
<rect x="201.82" y="403.61" width="5.41" height="11.22" fill="#FDC880" stroke="#666" stroke-width="0.55"/>
<rect x="207.24" y="403.61" width="5.41" height="11.22" fill="#F06E48" stroke="#666" stroke-width="0.55"/>
<rect x="212.65" y="403.61" width="5.41" height="11.22" fill="#F4FBD3" stroke="#666" stroke-width="0.55"/>
<rect x="218.06" y="403.61" width="5.41" height="11.22" fill="#FDB976" stroke="#666" stroke-width="0.55"/>
<rect x="223.48" y="403.61" width="5.41" height="11.22" fill="#FDAA6C" stroke="#666" stroke-width="0.55"/>
<rect x="228.89" y="403.61" width="5.41" height="11.22" fill="#FEE496" stroke="#666" stroke-width="0.55"/>
<rect x="234.30" y="403.61" width="5.41" height="11.22" fill="#FEE090" stroke="#666" stroke-width="0.55"/>
<rect x="239.71" y="403.61" width="5.41" height="11.22" fill="#E8F6E9" stroke="#666" stroke-width="0.55"/>
<rect x="245.12" y="403.61" width="5.41" height="11.22" fill="#B8D9EA" stroke="#666" stroke-width="0.55"/>
<rect x="250.54" y="403.61" width="5.41" height="11.22" fill="#79A7CF" stroke="#666" stroke-width="0.55"/>
<rect x="255.95" y="403.61" width="5.41" height="11.22" fill="#6B9AC8" stroke="#666" stroke-width="0.55"/>
<rect x="261.36" y="403.61" width="5.41" height="11.22" fill="#A9CFE4" stroke="#666" stroke-width="0.55"/>
<rect x="266.78" y="403.61" width="5.41" height="11.22" fill="#F1FAD9" stroke="#666" stroke-width="0.55"/>
<rect x="272.19" y="403.61" width="5.41" height="11.22" fill="#FEF0A8" stroke="#666" stroke-width="0.55"/>
<text x="280.60" y="411.32" font-size="7.8" font-weight="normal" text-anchor="start" fill="#333" >O-7</text>
<rect x="191.00" y="414.83" width="5.41" height="11.22" fill="#94C1DC" stroke="#666" stroke-width="0.55"/>
<rect x="196.41" y="414.83" width="5.41" height="11.22" fill="#FCA267" stroke="#666" stroke-width="0.55"/>
<rect x="201.82" y="414.83" width="5.41" height="11.22" fill="#DB392C" stroke="#666" stroke-width="0.55"/>
<rect x="207.24" y="414.83" width="5.41" height="11.22" fill="#FFF8B5" stroke="#666" stroke-width="0.55"/>
<rect x="212.65" y="414.83" width="5.41" height="11.22" fill="#FDC880" stroke="#666" stroke-width="0.55"/>
<rect x="218.06" y="414.83" width="5.41" height="11.22" fill="#FEE699" stroke="#666" stroke-width="0.55"/>
<rect x="223.48" y="414.83" width="5.41" height="11.22" fill="#FDC880" stroke="#666" stroke-width="0.55"/>
<rect x="228.89" y="414.83" width="5.41" height="11.22" fill="#FEE496" stroke="#666" stroke-width="0.55"/>
<rect x="234.30" y="414.83" width="5.41" height="11.22" fill="#FEECA3" stroke="#666" stroke-width="0.55"/>
<rect x="239.71" y="414.83" width="5.41" height="11.22" fill="#B8D9EA" stroke="#666" stroke-width="0.55"/>
<rect x="245.12" y="414.83" width="5.41" height="11.22" fill="#A9CFE4" stroke="#666" stroke-width="0.55"/>
<rect x="250.54" y="414.83" width="5.41" height="11.22" fill="#FEE496" stroke="#666" stroke-width="0.55"/>
<rect x="255.95" y="414.83" width="5.41" height="11.22" fill="#8DBBD9" stroke="#666" stroke-width="0.55"/>
<rect x="261.36" y="414.83" width="5.41" height="11.22" fill="#8DBBD9" stroke="#666" stroke-width="0.55"/>
<rect x="266.78" y="414.83" width="5.41" height="11.22" fill="#E0F3F8" stroke="#666" stroke-width="0.55"/>
<rect x="272.19" y="414.83" width="5.41" height="11.22" fill="#A9CFE4" stroke="#666" stroke-width="0.55"/>
<text x="280.60" y="422.54" font-size="7.8" font-weight="normal" text-anchor="start" fill="#333" >O-18</text>
<rect x="191.00" y="426.06" width="5.41" height="11.22" fill="#FEF0A8" stroke="#666" stroke-width="0.55"/>
<rect x="196.41" y="426.06" width="5.41" height="11.22" fill="#FEE090" stroke="#666" stroke-width="0.55"/>
<rect x="201.82" y="426.06" width="5.41" height="11.22" fill="#FDB271" stroke="#666" stroke-width="0.55"/>
<rect x="207.24" y="426.06" width="5.41" height="11.22" fill="#FFF3AC" stroke="#666" stroke-width="0.55"/>
<rect x="212.65" y="426.06" width="5.41" height="11.22" fill="#FDB271" stroke="#666" stroke-width="0.55"/>
<rect x="218.06" y="426.06" width="5.41" height="11.22" fill="#FC8D59" stroke="#666" stroke-width="0.55"/>
<rect x="223.48" y="426.06" width="5.41" height="11.22" fill="#FFF3AC" stroke="#666" stroke-width="0.55"/>
<rect x="228.89" y="426.06" width="5.41" height="11.22" fill="#FEE090" stroke="#666" stroke-width="0.55"/>
<rect x="234.30" y="426.06" width="5.41" height="11.22" fill="#FEECA3" stroke="#666" stroke-width="0.55"/>
<rect x="239.71" y="426.06" width="5.41" height="11.22" fill="#4575B4" stroke="#666" stroke-width="0.55"/>
<rect x="245.12" y="426.06" width="5.41" height="11.22" fill="#FEE496" stroke="#666" stroke-width="0.55"/>
<rect x="250.54" y="426.06" width="5.41" height="11.22" fill="#F7FCCD" stroke="#666" stroke-width="0.55"/>
<rect x="255.95" y="426.06" width="5.41" height="11.22" fill="#FEE699" stroke="#666" stroke-width="0.55"/>
<rect x="261.36" y="426.06" width="5.41" height="11.22" fill="#B8D9EA" stroke="#666" stroke-width="0.55"/>
<rect x="266.78" y="426.06" width="5.41" height="11.22" fill="#80AED2" stroke="#666" stroke-width="0.55"/>
<rect x="272.19" y="426.06" width="5.41" height="11.22" fill="#94C1DC" stroke="#666" stroke-width="0.55"/>
<text x="280.60" y="433.77" font-size="7.8" font-weight="normal" text-anchor="start" fill="#333" >O-5</text>
<rect x="191.00" y="437.28" width="5.41" height="11.22" fill="#F88354" stroke="#666" stroke-width="0.55"/>
<rect x="196.41" y="437.28" width="5.41" height="11.22" fill="#FC8D59" stroke="#666" stroke-width="0.55"/>
<rect x="201.82" y="437.28" width="5.41" height="11.22" fill="#FCA267" stroke="#666" stroke-width="0.55"/>
<rect x="207.24" y="437.28" width="5.41" height="11.22" fill="#FC9E64" stroke="#666" stroke-width="0.55"/>
<rect x="212.65" y="437.28" width="5.41" height="11.22" fill="#F4794E" stroke="#666" stroke-width="0.55"/>
<rect x="218.06" y="437.28" width="5.41" height="11.22" fill="#C8E3EF" stroke="#666" stroke-width="0.55"/>
<rect x="223.48" y="437.28" width="5.41" height="11.22" fill="#FFF8B5" stroke="#666" stroke-width="0.55"/>
<rect x="228.89" y="437.28" width="5.41" height="11.22" fill="#F4FBD3" stroke="#666" stroke-width="0.55"/>
<rect x="234.30" y="437.28" width="5.41" height="11.22" fill="#C0DEEC" stroke="#666" stroke-width="0.55"/>
<rect x="239.71" y="437.28" width="5.41" height="11.22" fill="#B1D4E7" stroke="#666" stroke-width="0.55"/>
<rect x="245.12" y="437.28" width="5.41" height="11.22" fill="#9BC6DF" stroke="#666" stroke-width="0.55"/>
<rect x="250.54" y="437.28" width="5.41" height="11.22" fill="#D8EEF5" stroke="#666" stroke-width="0.55"/>
<rect x="255.95" y="437.28" width="5.41" height="11.22" fill="#8DBBD9" stroke="#666" stroke-width="0.55"/>
<rect x="261.36" y="437.28" width="5.41" height="11.22" fill="#FDC07B" stroke="#666" stroke-width="0.55"/>
<rect x="266.78" y="437.28" width="5.41" height="11.22" fill="#B8D9EA" stroke="#666" stroke-width="0.55"/>
<rect x="272.19" y="437.28" width="5.41" height="11.22" fill="#D8EEF5" stroke="#666" stroke-width="0.55"/>
<text x="280.60" y="444.99" font-size="7.8" font-weight="normal" text-anchor="start" fill="#333" >O-17</text>
<rect x="191.00" y="238.8" width="5.41" height="5.8" fill="#1D6A50" stroke="#7a7a7a" stroke-width="0.45"/>
<rect x="196.41" y="238.8" width="5.41" height="5.8" fill="#1D6A50" stroke="#7a7a7a" stroke-width="0.45"/>
<rect x="201.82" y="238.8" width="5.41" height="5.8" fill="#1D6A50" stroke="#7a7a7a" stroke-width="0.45"/>
<rect x="207.24" y="238.8" width="5.41" height="5.8" fill="#1D6A50" stroke="#7a7a7a" stroke-width="0.45"/>
<rect x="212.65" y="238.8" width="5.41" height="5.8" fill="#1D6A50" stroke="#7a7a7a" stroke-width="0.45"/>
<rect x="218.06" y="238.8" width="5.41" height="5.8" fill="#1D6A50" stroke="#7a7a7a" stroke-width="0.45"/>
<rect x="223.48" y="238.8" width="5.41" height="5.8" fill="#1D6A50" stroke="#7a7a7a" stroke-width="0.45"/>
<rect x="228.89" y="238.8" width="5.41" height="5.8" fill="#1D6A50" stroke="#7a7a7a" stroke-width="0.45"/>
<rect x="234.30" y="238.8" width="5.41" height="5.8" fill="#1D6A50" stroke="#7a7a7a" stroke-width="0.45"/>
<rect x="239.71" y="238.8" width="5.41" height="5.8" fill="#A7C58B" stroke="#7a7a7a" stroke-width="0.45"/>
<rect x="245.12" y="238.8" width="5.41" height="5.8" fill="#A7C58B" stroke="#7a7a7a" stroke-width="0.45"/>
<rect x="250.54" y="238.8" width="5.41" height="5.8" fill="#A7C58B" stroke="#7a7a7a" stroke-width="0.45"/>
<rect x="255.95" y="238.8" width="5.41" height="5.8" fill="#A7C58B" stroke="#7a7a7a" stroke-width="0.45"/>
<rect x="261.36" y="238.8" width="5.41" height="5.8" fill="#A7C58B" stroke="#7a7a7a" stroke-width="0.45"/>
<rect x="266.78" y="238.8" width="5.41" height="5.8" fill="#A7C58B" stroke="#7a7a7a" stroke-width="0.45"/>
<rect x="272.19" y="238.8" width="5.41" height="5.8" fill="#A7C58B" stroke="#7a7a7a" stroke-width="0.45"/>
<text x="280.60" y="244.00" font-size="7.7" font-weight="normal" text-anchor="start" fill="#333" textLength="33.00" lengthAdjust="spacingAndGlyphs" >O-Glycan</text>
<path d="M199.12,238.60L199.12,235.30 M199.12,235.30L204.53,235.30 M204.53,235.30L204.53,238.60 M209.94,238.60L209.94,235.30 M209.94,235.30L215.36,235.30 M215.36,235.30L215.36,238.60 M201.82,235.30L201.82,234.20 M201.82,234.20L212.65,234.20 M212.65,234.20L212.65,235.30 M220.77,238.60L220.77,234.80 M220.77,234.80L226.18,234.80 M226.18,234.80L226.18,238.60 M231.59,238.60L231.59,235.50 M231.59,235.50L237.01,235.50 M237.01,235.50L237.01,238.60 M223.48,234.80L223.48,233.70 M223.48,233.70L234.30,233.70 M234.30,233.70L234.30,235.50 M207.24,234.20L207.24,233.10 M207.24,233.10L228.89,233.10 M228.89,233.10L228.89,233.70 M193.71,238.60L193.71,232.30 M193.71,232.30L218.06,232.30 M218.06,232.30L218.06,233.10 M253.24,238.60L253.24,236.20 M253.24,236.20L258.66,236.20 M258.66,236.20L258.66,238.60 M247.83,238.60L247.83,235.50 M247.83,235.50L255.95,235.50 M255.95,235.50L255.95,236.20 M269.48,238.60L269.48,236.00 M269.48,236.00L274.89,236.00 M274.89,236.00L274.89,238.60 M264.07,238.60L264.07,235.20 M264.07,235.20L272.19,235.20 M272.19,235.20L272.19,236.00 M251.89,235.50L251.89,234.40 M251.89,234.40L268.13,234.40 M268.13,234.40L268.13,235.20 M242.42,238.60L242.42,232.30 M242.42,232.30L260.01,232.30 M260.01,232.30L260.01,234.40 M205.88,232.30L205.88,223.40 M205.88,223.40L251.21,223.40 M251.21,223.40L251.21,232.30" fill="none" stroke="#555" stroke-width="0.7"/>
<rect x="309.2" y="252.3" width="7.6" height="7.6" fill="#A7C58B" stroke="#666" stroke-width="0.6"/>
<rect x="309.2" y="260.8" width="7.6" height="7.6" fill="#1D6A50" stroke="#666" stroke-width="0.6"/>
<text x="320.00" y="259.00" font-size="7.7" font-weight="normal" text-anchor="start" fill="#333" textLength="24.50" lengthAdjust="spacingAndGlyphs" >Healthy</text>
<text x="320.00" y="267.50" font-size="7.7" font-weight="normal" text-anchor="start" fill="#333" textLength="10.50" lengthAdjust="spacingAndGlyphs" >ITP</text>
<defs><linearGradient id="hg" x1="0" y1="0" x2="0" y2="1"><stop offset="0" stop-color="#D73027"/><stop offset="0.1667" stop-color="#FC8D59"/><stop offset="0.3333" stop-color="#FEE090"/><stop offset="0.5" stop-color="#FFFFBF"/><stop offset="0.6667" stop-color="#E0F3F8"/><stop offset="0.8333" stop-color="#91BFDB"/><stop offset="1" stop-color="#4575B4"/></linearGradient></defs>
<rect x="308.9" y="275.8" width="6" height="43" fill="url(#hg)"/>
<text x="318.00" y="280.90" font-size="7.5" font-weight="normal" text-anchor="start" fill="#333" textLength="48.20" lengthAdjust="spacingAndGlyphs" >High IgG titers</text>
<text x="318.00" y="319.60" font-size="7.5" font-weight="normal" text-anchor="start" fill="#333" textLength="45.80" lengthAdjust="spacingAndGlyphs" >Low IgG titers</text>
<text x="376.60" y="220.60" font-size="10.5" font-weight="bold" text-anchor="start" fill="#231F20" >D</text>
<text x="428.60" y="227.30" font-size="7.8" font-weight="bold" text-anchor="middle" fill="#333" textLength="38.50" lengthAdjust="spacingAndGlyphs" >Decreased</text>
<text x="428.40" y="236.20" font-size="7.8" font-weight="bold" text-anchor="middle" fill="#333" textLength="20.80" lengthAdjust="spacingAndGlyphs" >in ITP</text>
<text x="484.00" y="227.00" font-size="7.8" font-weight="bold" text-anchor="middle" fill="#333" textLength="34.30" lengthAdjust="spacingAndGlyphs" >Increased</text>
<text x="484.00" y="236.20" font-size="7.8" font-weight="bold" text-anchor="middle" fill="#333" textLength="20.10" lengthAdjust="spacingAndGlyphs" >in ITP</text>
<line x1="400.30" y1="239.20" x2="400.30" y2="434.00" stroke="#333" stroke-width="0.9" />
<line x1="397.20" y1="246.60" x2="400.30" y2="246.60" stroke="#333" stroke-width="0.8" />
<text x="395.40" y="249.40" font-size="7.9" font-weight="normal" text-anchor="end" fill="#333" >O-86</text>
<line x1="419.40" y1="246.60" x2="412.90" y2="246.60" stroke="#3a3a3a" stroke-width="0.95" />
<line x1="412.90" y1="244.30" x2="412.90" y2="248.90" stroke="#3a3a3a" stroke-width="0.95" />
<rect x="419.40" y="243.15" width="37.40" height="6.9" fill="#C4C4C8" stroke="#555" stroke-width="0.7"/>
<line x1="397.20" y1="257.23" x2="400.30" y2="257.23" stroke="#333" stroke-width="0.8" />
<text x="395.40" y="260.03" font-size="7.9" font-weight="normal" text-anchor="end" fill="#333" >O-54</text>
<line x1="424.60" y1="257.23" x2="420.60" y2="257.23" stroke="#3a3a3a" stroke-width="0.95" />
<line x1="420.60" y1="254.93" x2="420.60" y2="259.53" stroke="#3a3a3a" stroke-width="0.95" />
<rect x="424.60" y="253.78" width="32.20" height="6.9" fill="#C4C4C8" stroke="#555" stroke-width="0.7"/>
<line x1="397.20" y1="267.86" x2="400.30" y2="267.86" stroke="#333" stroke-width="0.8" />
<text x="395.40" y="270.66" font-size="7.9" font-weight="normal" text-anchor="end" fill="#333" >O-59</text>
<line x1="426.80" y1="267.86" x2="423.40" y2="267.86" stroke="#3a3a3a" stroke-width="0.95" />
<line x1="423.40" y1="265.56" x2="423.40" y2="270.16" stroke="#3a3a3a" stroke-width="0.95" />
<rect x="426.80" y="264.41" width="30.00" height="6.9" fill="#C4C4C8" stroke="#555" stroke-width="0.7"/>
<line x1="397.20" y1="278.49" x2="400.30" y2="278.49" stroke="#333" stroke-width="0.8" />
<text x="395.40" y="281.29" font-size="7.9" font-weight="normal" text-anchor="end" fill="#333" >O-83</text>
<line x1="431.40" y1="278.49" x2="425.50" y2="278.49" stroke="#3a3a3a" stroke-width="0.95" />
<line x1="425.50" y1="276.19" x2="425.50" y2="280.79" stroke="#3a3a3a" stroke-width="0.95" />
<rect x="431.40" y="275.04" width="25.40" height="6.9" fill="#C4C4C8" stroke="#555" stroke-width="0.7"/>
<line x1="397.20" y1="289.12" x2="400.30" y2="289.12" stroke="#333" stroke-width="0.8" />
<text x="395.40" y="291.92" font-size="7.9" font-weight="normal" text-anchor="end" fill="#333" >O-55</text>
<line x1="432.30" y1="289.12" x2="426.20" y2="289.12" stroke="#3a3a3a" stroke-width="0.95" />
<line x1="426.20" y1="286.82" x2="426.20" y2="291.42" stroke="#3a3a3a" stroke-width="0.95" />
<rect x="432.30" y="285.67" width="24.50" height="6.9" fill="#C4C4C8" stroke="#555" stroke-width="0.7"/>
<line x1="397.20" y1="299.75" x2="400.30" y2="299.75" stroke="#333" stroke-width="0.8" />
<text x="395.40" y="302.55" font-size="7.9" font-weight="normal" text-anchor="end" fill="#333" >O-53</text>
<line x1="435.40" y1="299.75" x2="431.70" y2="299.75" stroke="#3a3a3a" stroke-width="0.95" />
<line x1="431.70" y1="297.45" x2="431.70" y2="302.05" stroke="#3a3a3a" stroke-width="0.95" />
<rect x="435.40" y="296.30" width="21.40" height="6.9" fill="#C4C4C8" stroke="#555" stroke-width="0.7"/>
<line x1="397.20" y1="310.38" x2="400.30" y2="310.38" stroke="#333" stroke-width="0.8" />
<text x="395.40" y="313.18" font-size="7.9" font-weight="normal" text-anchor="end" fill="#333" >O-58</text>
<line x1="436.00" y1="310.38" x2="432.90" y2="310.38" stroke="#3a3a3a" stroke-width="0.95" />
<line x1="432.90" y1="308.08" x2="432.90" y2="312.68" stroke="#3a3a3a" stroke-width="0.95" />
<rect x="436.00" y="306.93" width="20.80" height="6.9" fill="#C4C4C8" stroke="#555" stroke-width="0.7"/>
<line x1="397.20" y1="321.01" x2="400.30" y2="321.01" stroke="#333" stroke-width="0.8" />
<text x="395.40" y="323.81" font-size="7.9" font-weight="normal" text-anchor="end" fill="#333" >O-25</text>
<line x1="445.50" y1="321.01" x2="438.50" y2="321.01" stroke="#3a3a3a" stroke-width="0.95" />
<line x1="438.50" y1="318.71" x2="438.50" y2="323.31" stroke="#3a3a3a" stroke-width="0.95" />
<rect x="445.50" y="317.56" width="11.30" height="6.9" fill="#C4C4C8" stroke="#555" stroke-width="0.7"/>
<line x1="397.20" y1="331.64" x2="400.30" y2="331.64" stroke="#333" stroke-width="0.8" />
<text x="395.40" y="334.44" font-size="7.9" font-weight="normal" text-anchor="end" fill="#333" >O-37</text>
<line x1="445.50" y1="331.64" x2="436.30" y2="331.64" stroke="#3a3a3a" stroke-width="0.95" />
<line x1="436.30" y1="329.34" x2="436.30" y2="333.94" stroke="#3a3a3a" stroke-width="0.95" />
<rect x="445.50" y="328.19" width="11.30" height="6.9" fill="#C4C4C8" stroke="#555" stroke-width="0.7"/>
<line x1="397.20" y1="342.27" x2="400.30" y2="342.27" stroke="#333" stroke-width="0.8" />
<text x="395.40" y="345.07" font-size="7.9" font-weight="normal" text-anchor="end" fill="#333" >O-5</text>
<line x1="476.90" y1="342.27" x2="486.20" y2="342.27" stroke="#808080" stroke-width="0.95" />
<line x1="486.20" y1="339.97" x2="486.20" y2="344.57" stroke="#808080" stroke-width="0.95" />
<rect x="456.80" y="338.82" width="20.10" height="6.9" fill="#D2202F"/>
<line x1="397.20" y1="352.90" x2="400.30" y2="352.90" stroke="#333" stroke-width="0.8" />
<text x="395.40" y="355.70" font-size="7.9" font-weight="normal" text-anchor="end" fill="#333" >O-44</text>
<line x1="484.60" y1="352.90" x2="491.70" y2="352.90" stroke="#3a3a3a" stroke-width="0.95" />
<line x1="491.70" y1="350.60" x2="491.70" y2="355.20" stroke="#3a3a3a" stroke-width="0.95" />
<rect x="456.80" y="349.45" width="27.80" height="6.9" fill="#C4C4C8" stroke="#555" stroke-width="0.7"/>
<line x1="397.20" y1="363.53" x2="400.30" y2="363.53" stroke="#333" stroke-width="0.8" />
<text x="395.40" y="366.33" font-size="7.9" font-weight="normal" text-anchor="end" fill="#333" >O-34</text>
<line x1="486.80" y1="363.53" x2="493.80" y2="363.53" stroke="#3a3a3a" stroke-width="0.95" />
<line x1="493.80" y1="361.23" x2="493.80" y2="365.83" stroke="#3a3a3a" stroke-width="0.95" />
<rect x="456.80" y="360.08" width="30.00" height="6.9" fill="#C4C4C8" stroke="#555" stroke-width="0.7"/>
<line x1="397.20" y1="374.16" x2="400.30" y2="374.16" stroke="#333" stroke-width="0.8" />
<text x="395.40" y="376.96" font-size="7.9" font-weight="normal" text-anchor="end" fill="#333" >O-33</text>
<line x1="490.50" y1="374.16" x2="494.50" y2="374.16" stroke="#3a3a3a" stroke-width="0.95" />
<line x1="494.50" y1="371.86" x2="494.50" y2="376.46" stroke="#3a3a3a" stroke-width="0.95" />
<rect x="456.80" y="370.71" width="33.70" height="6.9" fill="#C4C4C8" stroke="#555" stroke-width="0.7"/>
<line x1="397.20" y1="384.79" x2="400.30" y2="384.79" stroke="#333" stroke-width="0.8" />
<text x="395.40" y="387.59" font-size="7.9" font-weight="normal" text-anchor="end" fill="#333" >O-7</text>
<line x1="492.90" y1="384.79" x2="497.20" y2="384.79" stroke="#3a3a3a" stroke-width="0.95" />
<line x1="497.20" y1="382.49" x2="497.20" y2="387.09" stroke="#3a3a3a" stroke-width="0.95" />
<rect x="456.80" y="381.34" width="36.10" height="6.9" fill="#C4C4C8" stroke="#555" stroke-width="0.7"/>
<line x1="397.20" y1="395.42" x2="400.30" y2="395.42" stroke="#333" stroke-width="0.8" />
<text x="395.40" y="398.22" font-size="7.9" font-weight="normal" text-anchor="end" fill="#333" >O-17</text>
<line x1="496.30" y1="395.42" x2="500.60" y2="395.42" stroke="#3a3a3a" stroke-width="0.95" />
<line x1="500.60" y1="393.12" x2="500.60" y2="397.72" stroke="#3a3a3a" stroke-width="0.95" />
<rect x="456.80" y="391.97" width="39.50" height="6.9" fill="#C4C4C8" stroke="#555" stroke-width="0.7"/>
<line x1="397.20" y1="406.05" x2="400.30" y2="406.05" stroke="#333" stroke-width="0.8" />
<text x="395.40" y="408.85" font-size="7.9" font-weight="normal" text-anchor="end" fill="#333" >O-45</text>
<line x1="498.50" y1="406.05" x2="502.20" y2="406.05" stroke="#3a3a3a" stroke-width="0.95" />
<line x1="502.20" y1="403.75" x2="502.20" y2="408.35" stroke="#3a3a3a" stroke-width="0.95" />
<rect x="456.80" y="402.60" width="41.70" height="6.9" fill="#C4C4C8" stroke="#555" stroke-width="0.7"/>
<line x1="397.20" y1="416.68" x2="400.30" y2="416.68" stroke="#333" stroke-width="0.8" />
<text x="395.40" y="419.48" font-size="7.9" font-weight="normal" text-anchor="end" fill="#333" >O-18</text>
<line x1="505.20" y1="416.68" x2="507.10" y2="416.68" stroke="#3a3a3a" stroke-width="0.95" />
<line x1="507.10" y1="414.38" x2="507.10" y2="418.98" stroke="#3a3a3a" stroke-width="0.95" />
<rect x="456.80" y="413.23" width="48.40" height="6.9" fill="#C4C4C8" stroke="#555" stroke-width="0.7"/>
<line x1="397.20" y1="427.31" x2="400.30" y2="427.31" stroke="#333" stroke-width="0.8" />
<text x="395.40" y="430.11" font-size="7.9" font-weight="normal" text-anchor="end" fill="#333" >O-46</text>
<line x1="505.50" y1="427.31" x2="509.20" y2="427.31" stroke="#3a3a3a" stroke-width="0.95" />
<line x1="509.20" y1="425.01" x2="509.20" y2="429.61" stroke="#3a3a3a" stroke-width="0.95" />
<rect x="456.80" y="423.86" width="48.70" height="6.9" fill="#C4C4C8" stroke="#555" stroke-width="0.7"/>
<line x1="456.80" y1="218.20" x2="456.80" y2="433.50" stroke="#222" stroke-width="1.0" />
<line x1="403.70" y1="436.90" x2="511.30" y2="436.90" stroke="#333" stroke-width="0.9" />
<line x1="403.00" y1="436.90" x2="403.00" y2="440.20" stroke="#333" stroke-width="0.8" />
<text x="403.00" y="449.80" font-size="7.8" font-weight="normal" text-anchor="middle" fill="#333" >&#8722;4</text>
<line x1="429.90" y1="436.90" x2="429.90" y2="440.20" stroke="#333" stroke-width="0.8" />
<text x="429.90" y="449.80" font-size="7.8" font-weight="normal" text-anchor="middle" fill="#333" >&#8722;2</text>
<line x1="456.80" y1="436.90" x2="456.80" y2="440.20" stroke="#333" stroke-width="0.8" />
<text x="456.80" y="449.80" font-size="7.8" font-weight="normal" text-anchor="middle" fill="#333" >0</text>
<line x1="483.70" y1="436.90" x2="483.70" y2="440.20" stroke="#333" stroke-width="0.8" />
<text x="483.70" y="449.80" font-size="7.8" font-weight="normal" text-anchor="middle" fill="#333" >2</text>
<line x1="510.60" y1="436.90" x2="510.60" y2="440.20" stroke="#333" stroke-width="0.8" />
<text x="510.60" y="449.80" font-size="7.8" font-weight="normal" text-anchor="middle" fill="#333" >4</text>
<text x="458.00" y="465.00" font-size="8.6" font-weight="normal" text-anchor="middle" fill="#333" textLength="40.40" lengthAdjust="spacingAndGlyphs" >Fold-change</text>
<text x="6.80" y="493.80" font-size="10.5" font-weight="bold" text-anchor="start" fill="#231F20" >E</text>
<rect x="9.4" y="502.4" width="379.7" height="173" rx="7.5" ry="7.5" fill="none" stroke="#555" stroke-width="1"/>
<line x1="80.10" y1="502.80" x2="80.10" y2="675.50" stroke="#555" stroke-width="1.6" stroke-dasharray="1.7,2.34"/>
<rect x="19.40" y="510.70" width="6.40" height="6.40" fill="#FFD400" stroke="#444" stroke-width="0.6"/>
<text x="35.00" y="516.30" font-size="7.6" font-weight="normal" text-anchor="start" fill="#333" textLength="25.70" lengthAdjust="spacingAndGlyphs" >GalNAc</text>
<circle cx="22.70" cy="524.90" r="3.30" fill="#FFD400" stroke="#444" stroke-width="0.6"/>
<text x="35.00" y="526.60" font-size="7.6" font-weight="normal" text-anchor="start" fill="#333" textLength="11.80" lengthAdjust="spacingAndGlyphs" >Gal</text>
<polygon points="18.90,537.70 22.50,534.10 26.10,537.70 22.50,541.30" fill="#A5439A" stroke="#6b2a66" stroke-width="0.5"/>
<text x="35.00" y="539.70" font-size="7.6" font-weight="normal" text-anchor="start" fill="#333" textLength="10.50" lengthAdjust="spacingAndGlyphs" >Sia</text>
<polygon points="22.60,546.90 26.10,552.70 19.10,552.70" fill="#ED1C24" stroke="#8b1010" stroke-width="0.5" stroke-linejoin="miter"/>
<text x="35.00" y="551.80" font-size="7.6" font-weight="normal" text-anchor="start" fill="#333" textLength="24.30" lengthAdjust="spacingAndGlyphs" >Fucose</text>
<rect x="19.40" y="558.60" width="6.40" height="6.40" fill="#0072BC" stroke="#444" stroke-width="0.6"/>
<text x="35.00" y="563.80" font-size="7.6" font-weight="normal" text-anchor="start" fill="#333" textLength="30.50" lengthAdjust="spacingAndGlyphs" >N-acetyl-</text>
<text x="35.00" y="572.60" font-size="7.6" font-weight="normal" text-anchor="start" fill="#333" textLength="42.20" lengthAdjust="spacingAndGlyphs" >glucosamine</text>
<text x="35.00" y="580.80" font-size="7.6" font-weight="normal" text-anchor="start" fill="#333" textLength="29.60" lengthAdjust="spacingAndGlyphs" >(GlcNAc)</text>
<text x="19.20" y="598.50" font-size="7.6" font-weight="normal" text-anchor="start" fill="#333" >S:</text>
<text x="35.00" y="598.50" font-size="7.6" font-weight="normal" text-anchor="start" fill="#333" textLength="20.50" lengthAdjust="spacingAndGlyphs" >Serine</text>
<line x1="18.00" y1="613.00" x2="28.00" y2="613.00" stroke="#666" stroke-width="0.9" stroke-dasharray="0.9,0.9"/>
<text x="35.00" y="615.30" font-size="7.6" font-weight="normal" text-anchor="start" fill="#333" textLength="30.60" lengthAdjust="spacingAndGlyphs" >&#945;-linkage</text>
<line x1="18.00" y1="625.00" x2="28.00" y2="625.00" stroke="#666" stroke-width="1.0" />
<text x="35.00" y="627.00" font-size="7.6" font-weight="normal" text-anchor="start" fill="#333" textLength="29.80" lengthAdjust="spacingAndGlyphs" >&#946;-linkage</text>
<rect x="41.6" y="646.9" width="11" height="11" fill="#fff" stroke="#444" stroke-width="0.8"/>
<line x1="47.10" y1="641.20" x2="47.10" y2="646.90" stroke="#444" stroke-width="0.8" />
<line x1="47.10" y1="657.90" x2="47.10" y2="663.80" stroke="#444" stroke-width="0.8" />
<line x1="35.30" y1="652.40" x2="41.60" y2="652.40" stroke="#444" stroke-width="0.8" />
<line x1="37.40" y1="642.60" x2="41.60" y2="646.90" stroke="#444" stroke-width="0.8" />
<line x1="41.60" y1="657.90" x2="37.40" y2="662.40" stroke="#444" stroke-width="0.8" />
<line x1="52.60" y1="652.40" x2="60.50" y2="652.40" stroke="#444" stroke-width="0.8" />
<polygon points="63,652.4 59.3,650.6 59.3,654.2" fill="#222"/>
<text x="46.80" y="638.60" font-size="7.4" font-weight="normal" text-anchor="middle" fill="#333" >8</text>
<text x="33.80" y="641.60" font-size="7.4" font-weight="normal" text-anchor="middle" fill="#333" >6</text>
<text x="30.80" y="655.30" font-size="7.4" font-weight="normal" text-anchor="middle" fill="#333" >4</text>
<text x="33.50" y="667.60" font-size="7.4" font-weight="normal" text-anchor="middle" fill="#333" >3</text>
<text x="46.80" y="671.40" font-size="7.4" font-weight="normal" text-anchor="middle" fill="#333" >2</text>
<line x1="117.90" y1="521.50" x2="124.00" y2="521.50" stroke="#555" stroke-width="0.6" />
<line x1="115.40" y1="521.50" x2="107.35" y2="513.45" stroke="#555" stroke-width="0.6" />
<line x1="107.35" y1="513.45" x2="99.30" y2="513.45" stroke="#555" stroke-width="0.6" />
<line x1="99.30" y1="513.45" x2="91.25" y2="521.50" stroke="#777" stroke-width="0.6" stroke-dasharray="0.9,0.8"/>
<line x1="107.35" y1="513.45" x2="99.30" y2="521.50" stroke="#777" stroke-width="0.6" stroke-dasharray="0.9,0.8"/>
<line x1="115.40" y1="521.50" x2="107.35" y2="529.55" stroke="#555" stroke-width="0.6" />
<line x1="107.35" y1="529.55" x2="99.30" y2="529.55" stroke="#555" stroke-width="0.6" />
<line x1="99.30" y1="529.55" x2="91.25" y2="537.60" stroke="#777" stroke-width="0.6" stroke-dasharray="0.9,0.8"/>
<line x1="107.35" y1="529.55" x2="99.30" y2="537.60" stroke="#777" stroke-width="0.6" stroke-dasharray="0.9,0.8"/>
<rect x="112.90" y="519.00" width="5.00" height="5.00" fill="#FFD400" stroke="#555" stroke-width="0.45"/>
<rect x="104.85" y="510.95" width="5.00" height="5.00" fill="#0072BC" stroke="#333" stroke-width="0.45"/>
<circle cx="99.30" cy="513.45" r="2.55" fill="#FFD400" stroke="#555" stroke-width="0.45"/>
<polygon points="88.65,521.50 91.25,518.90 93.85,521.50 91.25,524.10" fill="#A5439A" stroke="#5a2456" stroke-width="0.3"/>
<polygon points="99.30,519.20 101.80,523.60 96.80,523.60" fill="#ED1C24" stroke="#7a1010" stroke-width="0.3" stroke-linejoin="miter"/>
<rect x="104.85" y="527.05" width="5.00" height="5.00" fill="#0072BC" stroke="#333" stroke-width="0.45"/>
<circle cx="99.30" cy="529.55" r="2.55" fill="#FFD400" stroke="#555" stroke-width="0.45"/>
<polygon points="88.65,537.60 91.25,535.00 93.85,537.60 91.25,540.20" fill="#A5439A" stroke="#5a2456" stroke-width="0.3"/>
<polygon points="99.30,535.30 101.80,539.70 96.80,539.70" fill="#ED1C24" stroke="#7a1010" stroke-width="0.3" stroke-linejoin="miter"/>
<text x="126.20" y="524.40" font-size="8.0" font-weight="normal" text-anchor="middle" fill="#444" >S</text>
<line x1="166.70" y1="514.10" x2="172.80" y2="514.10" stroke="#555" stroke-width="0.6" />
<line x1="164.20" y1="514.10" x2="156.15" y2="522.15" stroke="#555" stroke-width="0.6" />
<line x1="156.15" y1="522.15" x2="148.10" y2="530.20" stroke="#555" stroke-width="0.6" />
<line x1="148.10" y1="530.20" x2="140.05" y2="530.20" stroke="#555" stroke-width="0.6" />
<line x1="140.05" y1="530.20" x2="132.00" y2="538.25" stroke="#777" stroke-width="0.6" stroke-dasharray="0.9,0.8"/>
<line x1="148.10" y1="530.20" x2="140.05" y2="538.25" stroke="#777" stroke-width="0.6" stroke-dasharray="0.9,0.8"/>
<rect x="161.70" y="511.60" width="5.00" height="5.00" fill="#FFD400" stroke="#555" stroke-width="0.45"/>
<circle cx="156.15" cy="522.15" r="2.55" fill="#FFD400" stroke="#555" stroke-width="0.45"/>
<rect x="145.60" y="527.70" width="5.00" height="5.00" fill="#0072BC" stroke="#333" stroke-width="0.45"/>
<circle cx="140.05" cy="530.20" r="2.55" fill="#FFD400" stroke="#555" stroke-width="0.45"/>
<polygon points="129.40,538.25 132.00,535.65 134.60,538.25 132.00,540.85" fill="#A5439A" stroke="#5a2456" stroke-width="0.3"/>
<polygon points="140.05,535.95 142.55,540.35 137.55,540.35" fill="#ED1C24" stroke="#7a1010" stroke-width="0.3" stroke-linejoin="miter"/>
<text x="175.00" y="517.00" font-size="8.0" font-weight="normal" text-anchor="middle" fill="#444" >S</text>
<line x1="214.20" y1="521.50" x2="220.30" y2="521.50" stroke="#555" stroke-width="0.6" />
<line x1="211.70" y1="521.50" x2="203.65" y2="513.45" stroke="#555" stroke-width="0.6" />
<line x1="203.65" y1="513.45" x2="195.60" y2="513.45" stroke="#555" stroke-width="0.6" />
<line x1="195.60" y1="513.45" x2="187.55" y2="521.50" stroke="#777" stroke-width="0.6" stroke-dasharray="0.9,0.8"/>
<line x1="211.70" y1="521.50" x2="203.65" y2="529.55" stroke="#555" stroke-width="0.6" />
<line x1="203.65" y1="529.55" x2="195.60" y2="537.60" stroke="#777" stroke-width="0.6" stroke-dasharray="0.9,0.8"/>
<rect x="209.20" y="519.00" width="5.00" height="5.00" fill="#FFD400" stroke="#555" stroke-width="0.45"/>
<rect x="201.15" y="510.95" width="5.00" height="5.00" fill="#0072BC" stroke="#333" stroke-width="0.45"/>
<circle cx="195.60" cy="513.45" r="2.55" fill="#FFD400" stroke="#555" stroke-width="0.45"/>
<polygon points="184.95,521.50 187.55,518.90 190.15,521.50 187.55,524.10" fill="#A5439A" stroke="#5a2456" stroke-width="0.3"/>
<circle cx="203.65" cy="529.55" r="2.55" fill="#FFD400" stroke="#555" stroke-width="0.45"/>
<polygon points="193.00,537.60 195.60,535.00 198.20,537.60 195.60,540.20" fill="#A5439A" stroke="#5a2456" stroke-width="0.3"/>
<text x="222.50" y="524.40" font-size="8.0" font-weight="normal" text-anchor="middle" fill="#444" >S</text>
<line x1="265.60" y1="529.40" x2="271.70" y2="529.40" stroke="#555" stroke-width="0.6" />
<line x1="263.10" y1="529.40" x2="255.05" y2="521.35" stroke="#555" stroke-width="0.6" />
<line x1="255.05" y1="521.35" x2="247.00" y2="521.35" stroke="#555" stroke-width="0.6" />
<line x1="247.00" y1="521.35" x2="238.95" y2="513.30" stroke="#777" stroke-width="0.6" stroke-dasharray="0.9,0.8"/>
<line x1="263.10" y1="529.40" x2="255.05" y2="537.45" stroke="#555" stroke-width="0.6" />
<line x1="255.05" y1="537.45" x2="247.00" y2="537.45" stroke="#555" stroke-width="0.6" />
<line x1="247.00" y1="537.45" x2="238.95" y2="529.40" stroke="#777" stroke-width="0.6" stroke-dasharray="0.9,0.8"/>
<rect x="260.60" y="526.90" width="5.00" height="5.00" fill="#FFD400" stroke="#555" stroke-width="0.45"/>
<rect x="252.55" y="518.85" width="5.00" height="5.00" fill="#0072BC" stroke="#333" stroke-width="0.45"/>
<circle cx="247.00" cy="521.35" r="2.55" fill="#FFD400" stroke="#555" stroke-width="0.45"/>
<polygon points="236.35,513.30 238.95,510.70 241.55,513.30 238.95,515.90" fill="#A5439A" stroke="#5a2456" stroke-width="0.3"/>
<rect x="252.55" y="534.95" width="5.00" height="5.00" fill="#0072BC" stroke="#333" stroke-width="0.45"/>
<circle cx="247.00" cy="537.45" r="2.55" fill="#FFD400" stroke="#555" stroke-width="0.45"/>
<polygon points="236.35,529.40 238.95,526.80 241.55,529.40 238.95,532.00" fill="#A5439A" stroke="#5a2456" stroke-width="0.3"/>
<text x="273.90" y="532.30" font-size="8.0" font-weight="normal" text-anchor="middle" fill="#444" >S</text>
<line x1="311.30" y1="521.50" x2="317.40" y2="521.50" stroke="#555" stroke-width="0.6" />
<line x1="308.80" y1="521.50" x2="300.75" y2="513.45" stroke="#777" stroke-width="0.6" stroke-dasharray="0.9,0.8"/>
<line x1="308.80" y1="521.50" x2="300.75" y2="529.55" stroke="#555" stroke-width="0.6" />
<line x1="300.75" y1="529.55" x2="292.70" y2="537.60" stroke="#777" stroke-width="0.6" stroke-dasharray="0.9,0.8"/>
<rect x="306.30" y="519.00" width="5.00" height="5.00" fill="#FFD400" stroke="#555" stroke-width="0.45"/>
<polygon points="298.15,513.45 300.75,510.85 303.35,513.45 300.75,516.05" fill="#A5439A" stroke="#5a2456" stroke-width="0.3"/>
<circle cx="300.75" cy="529.55" r="2.55" fill="#FFD400" stroke="#555" stroke-width="0.45"/>
<polygon points="290.10,537.60 292.70,535.00 295.30,537.60 292.70,540.20" fill="#A5439A" stroke="#5a2456" stroke-width="0.3"/>
<text x="319.60" y="524.40" font-size="8.0" font-weight="normal" text-anchor="middle" fill="#444" >S</text>
<line x1="367.30" y1="517.90" x2="373.40" y2="517.90" stroke="#555" stroke-width="0.6" />
<line x1="364.80" y1="517.90" x2="356.75" y2="525.95" stroke="#555" stroke-width="0.6" />
<line x1="356.75" y1="525.95" x2="348.70" y2="534.00" stroke="#555" stroke-width="0.6" />
<line x1="348.70" y1="534.00" x2="340.65" y2="534.00" stroke="#555" stroke-width="0.6" />
<line x1="340.65" y1="534.00" x2="332.60" y2="525.95" stroke="#777" stroke-width="0.6" stroke-dasharray="0.9,0.8"/>
<rect x="362.30" y="515.40" width="5.00" height="5.00" fill="#FFD400" stroke="#555" stroke-width="0.45"/>
<circle cx="356.75" cy="525.95" r="2.55" fill="#FFD400" stroke="#555" stroke-width="0.45"/>
<rect x="346.20" y="531.50" width="5.00" height="5.00" fill="#0072BC" stroke="#333" stroke-width="0.45"/>
<circle cx="340.65" cy="534.00" r="2.55" fill="#FFD400" stroke="#555" stroke-width="0.45"/>
<polygon points="330.00,525.95 332.60,523.35 335.20,525.95 332.60,528.55" fill="#A5439A" stroke="#5a2456" stroke-width="0.3"/>
<text x="375.60" y="520.80" font-size="8.0" font-weight="normal" text-anchor="middle" fill="#444" >S</text>
<line x1="114.20" y1="576.50" x2="120.30" y2="576.50" stroke="#555" stroke-width="0.6" />
<line x1="111.70" y1="576.50" x2="103.65" y2="568.45" stroke="#555" stroke-width="0.6" />
<line x1="103.65" y1="568.45" x2="95.60" y2="568.45" stroke="#555" stroke-width="0.6" />
<line x1="111.70" y1="576.50" x2="103.65" y2="584.55" stroke="#555" stroke-width="0.6" />
<line x1="103.65" y1="584.55" x2="95.60" y2="592.60" stroke="#777" stroke-width="0.6" stroke-dasharray="0.9,0.8"/>
<rect x="109.20" y="574.00" width="5.00" height="5.00" fill="#FFD400" stroke="#555" stroke-width="0.45"/>
<rect x="101.15" y="565.95" width="5.00" height="5.00" fill="#0072BC" stroke="#333" stroke-width="0.45"/>
<circle cx="95.60" cy="568.45" r="2.55" fill="#FFD400" stroke="#555" stroke-width="0.45"/>
<circle cx="103.65" cy="584.55" r="2.55" fill="#FFD400" stroke="#555" stroke-width="0.45"/>
<polygon points="93.00,592.60 95.60,590.00 98.20,592.60 95.60,595.20" fill="#A5439A" stroke="#5a2456" stroke-width="0.3"/>
<text x="122.50" y="579.40" font-size="8.0" font-weight="normal" text-anchor="middle" fill="#444" >S</text>
<line x1="154.00" y1="581.30" x2="160.10" y2="581.30" stroke="#555" stroke-width="0.6" />
<line x1="151.50" y1="581.30" x2="143.45" y2="573.25" stroke="#777" stroke-width="0.6" stroke-dasharray="0.9,0.8"/>
<line x1="151.50" y1="581.30" x2="143.45" y2="589.35" stroke="#555" stroke-width="0.6" />
<rect x="149.00" y="578.80" width="5.00" height="5.00" fill="#FFD400" stroke="#555" stroke-width="0.45"/>
<polygon points="140.85,573.25 143.45,570.65 146.05,573.25 143.45,575.85" fill="#A5439A" stroke="#5a2456" stroke-width="0.3"/>
<rect x="140.95" y="586.85" width="5.00" height="5.00" fill="#0072BC" stroke="#333" stroke-width="0.45"/>
<text x="162.30" y="584.20" font-size="8.0" font-weight="normal" text-anchor="middle" fill="#444" >S</text>
<line x1="205.60" y1="577.70" x2="211.70" y2="577.70" stroke="#555" stroke-width="0.6" />
<line x1="203.10" y1="577.70" x2="195.05" y2="585.75" stroke="#555" stroke-width="0.6" />
<rect x="200.60" y="575.20" width="5.00" height="5.00" fill="#FFD400" stroke="#555" stroke-width="0.45"/>
<rect x="192.55" y="583.25" width="5.00" height="5.00" fill="#0072BC" stroke="#333" stroke-width="0.45"/>
<text x="213.90" y="580.60" font-size="8.0" font-weight="normal" text-anchor="middle" fill="#444" >S</text>
<line x1="257.10" y1="576.70" x2="263.20" y2="576.70" stroke="#555" stroke-width="0.6" />
<line x1="254.60" y1="576.70" x2="246.55" y2="584.75" stroke="#555" stroke-width="0.6" />
<rect x="252.10" y="574.20" width="5.00" height="5.00" fill="#FFD400" stroke="#555" stroke-width="0.45"/>
<circle cx="246.55" cy="584.75" r="2.55" fill="#FFD400" stroke="#555" stroke-width="0.45"/>
<text x="265.40" y="579.60" font-size="8.0" font-weight="normal" text-anchor="middle" fill="#444" >S</text>
<line x1="310.40" y1="584.20" x2="316.50" y2="584.20" stroke="#555" stroke-width="0.6" />
<line x1="307.90" y1="584.20" x2="299.85" y2="576.15" stroke="#555" stroke-width="0.6" />
<line x1="299.85" y1="576.15" x2="291.80" y2="576.15" stroke="#555" stroke-width="0.6" />
<line x1="299.85" y1="576.15" x2="291.80" y2="584.20" stroke="#777" stroke-width="0.6" stroke-dasharray="0.9,0.8"/>
<rect x="305.40" y="581.70" width="5.00" height="5.00" fill="#FFD400" stroke="#555" stroke-width="0.45"/>
<rect x="297.35" y="573.65" width="5.00" height="5.00" fill="#0072BC" stroke="#333" stroke-width="0.45"/>
<circle cx="291.80" cy="576.15" r="2.55" fill="#FFD400" stroke="#555" stroke-width="0.45"/>
<polygon points="291.80,581.90 294.30,586.30 289.30,586.30" fill="#ED1C24" stroke="#7a1010" stroke-width="0.3" stroke-linejoin="miter"/>
<text x="318.70" y="587.10" font-size="8.0" font-weight="normal" text-anchor="middle" fill="#444" >S</text>
<line x1="359.00" y1="572.90" x2="365.10" y2="572.90" stroke="#555" stroke-width="0.6" />
<line x1="356.50" y1="572.90" x2="348.45" y2="580.95" stroke="#555" stroke-width="0.6" />
<line x1="348.45" y1="580.95" x2="340.40" y2="580.95" stroke="#555" stroke-width="0.6" />
<line x1="340.40" y1="580.95" x2="340.40" y2="589.00" stroke="#555" stroke-width="0.6" />
<rect x="354.00" y="570.40" width="5.00" height="5.00" fill="#FFD400" stroke="#555" stroke-width="0.45"/>
<rect x="345.95" y="578.45" width="5.00" height="5.00" fill="#0072BC" stroke="#333" stroke-width="0.45"/>
<circle cx="340.40" cy="580.95" r="2.55" fill="#FFD400" stroke="#555" stroke-width="0.45"/>
<polygon points="340.40,586.70 342.90,591.10 337.90,591.10" fill="#ED1C24" stroke="#7a1010" stroke-width="0.3" stroke-linejoin="miter"/>
<text x="367.30" y="575.80" font-size="8.0" font-weight="normal" text-anchor="middle" fill="#444" >S</text>
<line x1="111.30" y1="624.80" x2="117.40" y2="624.80" stroke="#555" stroke-width="0.6" />
<line x1="108.80" y1="624.80" x2="100.75" y2="632.85" stroke="#555" stroke-width="0.6" />
<line x1="100.75" y1="632.85" x2="92.70" y2="632.85" stroke="#555" stroke-width="0.6" />
<line x1="92.70" y1="632.85" x2="92.70" y2="640.90" stroke="#555" stroke-width="0.6" />
<line x1="100.75" y1="632.85" x2="92.70" y2="648.95" stroke="#777" stroke-width="0.6" stroke-dasharray="0.9,0.8"/>
<rect x="106.30" y="622.30" width="5.00" height="5.00" fill="#FFD400" stroke="#555" stroke-width="0.45"/>
<rect x="98.25" y="630.35" width="5.00" height="5.00" fill="#0072BC" stroke="#333" stroke-width="0.45"/>
<circle cx="92.70" cy="632.85" r="2.55" fill="#FFD400" stroke="#555" stroke-width="0.45"/>
<polygon points="92.70,638.60 95.20,643.00 90.20,643.00" fill="#ED1C24" stroke="#7a1010" stroke-width="0.3" stroke-linejoin="miter"/>
<polygon points="92.70,646.65 95.20,651.05 90.20,651.05" fill="#ED1C24" stroke="#7a1010" stroke-width="0.3" stroke-linejoin="miter"/>
<text x="119.60" y="627.70" font-size="8.0" font-weight="normal" text-anchor="middle" fill="#444" >S</text>
<line x1="155.60" y1="628.30" x2="147.55" y2="636.35" stroke="#555" stroke-width="0.6" />
<line x1="147.55" y1="636.35" x2="139.50" y2="644.40" stroke="#777" stroke-width="0.6" stroke-dasharray="0.9,0.8"/>
<rect x="153.10" y="625.80" width="5.00" height="5.00" fill="#FFD400" stroke="#555" stroke-width="0.45"/>
<circle cx="147.55" cy="636.35" r="2.55" fill="#FFD400" stroke="#555" stroke-width="0.45"/>
<polygon points="136.90,644.40 139.50,641.80 142.10,644.40 139.50,647.00" fill="#A5439A" stroke="#5a2456" stroke-width="0.3"/>
<text x="166.40" y="631.20" font-size="8.0" font-weight="normal" text-anchor="middle" fill="#444" >S</text>
<line x1="219.60" y1="624.80" x2="225.70" y2="624.80" stroke="#555" stroke-width="0.6" />
<line x1="217.10" y1="624.80" x2="209.05" y2="632.85" stroke="#555" stroke-width="0.6" />
<line x1="209.05" y1="632.85" x2="201.00" y2="640.90" stroke="#555" stroke-width="0.6" />
<line x1="201.00" y1="640.90" x2="192.95" y2="640.90" stroke="#555" stroke-width="0.6" />
<line x1="192.95" y1="640.90" x2="184.90" y2="640.90" stroke="#555" stroke-width="0.6" />
<line x1="192.95" y1="640.90" x2="184.90" y2="648.95" stroke="#777" stroke-width="0.6" stroke-dasharray="0.9,0.8"/>
<rect x="214.60" y="622.30" width="5.00" height="5.00" fill="#FFD400" stroke="#555" stroke-width="0.45"/>
<circle cx="209.05" cy="632.85" r="2.55" fill="#FFD400" stroke="#555" stroke-width="0.45"/>
<rect x="198.50" y="638.40" width="5.00" height="5.00" fill="#0072BC" stroke="#333" stroke-width="0.45"/>
<circle cx="192.95" cy="640.90" r="2.55" fill="#FFD400" stroke="#555" stroke-width="0.45"/>
<rect x="182.40" y="638.40" width="5.00" height="5.00" fill="#FFD400" stroke="#555" stroke-width="0.45"/>
<polygon points="182.30,648.95 184.90,646.35 187.50,648.95 184.90,651.55" fill="#A5439A" stroke="#5a2456" stroke-width="0.3"/>
<text x="227.90" y="627.70" font-size="8.0" font-weight="normal" text-anchor="middle" fill="#444" >S</text>
<line x1="269.00" y1="637.90" x2="275.10" y2="637.90" stroke="#555" stroke-width="0.6" />
<line x1="266.50" y1="637.90" x2="258.45" y2="629.85" stroke="#555" stroke-width="0.6" />
<line x1="258.45" y1="629.85" x2="250.40" y2="629.85" stroke="#555" stroke-width="0.6" />
<line x1="250.40" y1="629.85" x2="242.35" y2="637.90" stroke="#777" stroke-width="0.6" stroke-dasharray="0.9,0.8"/>
<line x1="258.45" y1="629.85" x2="250.40" y2="637.90" stroke="#777" stroke-width="0.6" stroke-dasharray="0.9,0.8"/>
<rect x="264.00" y="635.40" width="5.00" height="5.00" fill="#FFD400" stroke="#555" stroke-width="0.45"/>
<rect x="255.95" y="627.35" width="5.00" height="5.00" fill="#0072BC" stroke="#333" stroke-width="0.45"/>
<circle cx="250.40" cy="629.85" r="2.55" fill="#FFD400" stroke="#555" stroke-width="0.45"/>
<polygon points="239.75,637.90 242.35,635.30 244.95,637.90 242.35,640.50" fill="#A5439A" stroke="#5a2456" stroke-width="0.3"/>
<polygon points="250.40,635.60 252.90,640.00 247.90,640.00" fill="#ED1C24" stroke="#7a1010" stroke-width="0.3" stroke-linejoin="miter"/>
<text x="277.30" y="640.80" font-size="8.0" font-weight="normal" text-anchor="middle" fill="#444" >S</text>
<line x1="320.60" y1="623.80" x2="326.70" y2="623.80" stroke="#555" stroke-width="0.6" />
<line x1="318.10" y1="623.80" x2="310.05" y2="631.85" stroke="#555" stroke-width="0.6" />
<line x1="310.05" y1="631.85" x2="302.00" y2="639.90" stroke="#555" stroke-width="0.6" />
<line x1="302.00" y1="639.90" x2="293.95" y2="639.90" stroke="#555" stroke-width="0.6" />
<line x1="293.95" y1="639.90" x2="293.95" y2="647.95" stroke="#555" stroke-width="0.6" />
<rect x="315.60" y="621.30" width="5.00" height="5.00" fill="#FFD400" stroke="#555" stroke-width="0.45"/>
<circle cx="310.05" cy="631.85" r="2.55" fill="#FFD400" stroke="#555" stroke-width="0.45"/>
<rect x="299.50" y="637.40" width="5.00" height="5.00" fill="#0072BC" stroke="#333" stroke-width="0.45"/>
<circle cx="293.95" cy="639.90" r="2.55" fill="#FFD400" stroke="#555" stroke-width="0.45"/>
<polygon points="293.95,645.65 296.45,650.05 291.45,650.05" fill="#ED1C24" stroke="#7a1010" stroke-width="0.3" stroke-linejoin="miter"/>
<text x="328.90" y="626.70" font-size="8.0" font-weight="normal" text-anchor="middle" fill="#444" >S</text>
<line x1="367.10" y1="633.70" x2="373.20" y2="633.70" stroke="#555" stroke-width="0.6" />
<line x1="364.60" y1="633.70" x2="356.55" y2="625.65" stroke="#555" stroke-width="0.6" />
<line x1="356.55" y1="625.65" x2="348.50" y2="625.65" stroke="#555" stroke-width="0.6" />
<line x1="348.50" y1="625.65" x2="348.50" y2="633.70" stroke="#555" stroke-width="0.6" />
<line x1="356.55" y1="625.65" x2="348.50" y2="641.75" stroke="#777" stroke-width="0.6" stroke-dasharray="0.9,0.8"/>
<rect x="362.10" y="631.20" width="5.00" height="5.00" fill="#FFD400" stroke="#555" stroke-width="0.45"/>
<rect x="354.05" y="623.15" width="5.00" height="5.00" fill="#0072BC" stroke="#333" stroke-width="0.45"/>
<circle cx="348.50" cy="625.65" r="2.55" fill="#FFD400" stroke="#555" stroke-width="0.45"/>
<polygon points="348.50,631.40 351.00,635.80 346.00,635.80" fill="#ED1C24" stroke="#7a1010" stroke-width="0.3" stroke-linejoin="miter"/>
<polygon points="348.50,639.45 351.00,643.85 346.00,643.85" fill="#ED1C24" stroke="#7a1010" stroke-width="0.3" stroke-linejoin="miter"/>
<text x="375.40" y="636.60" font-size="8.0" font-weight="normal" text-anchor="middle" fill="#444" >S</text>
<text x="105.00" y="552.30" font-size="8.3" font-weight="normal" text-anchor="middle" fill="#222" textLength="18.00" lengthAdjust="spacingAndGlyphs" stroke="#222" stroke-width="0.22">O-86</text>
<text x="151.20" y="552.30" font-size="8.3" font-weight="normal" text-anchor="middle" fill="#222" textLength="18.00" lengthAdjust="spacingAndGlyphs" stroke="#222" stroke-width="0.22">O-54</text>
<text x="200.80" y="552.30" font-size="8.3" font-weight="normal" text-anchor="middle" fill="#222" textLength="18.00" lengthAdjust="spacingAndGlyphs" stroke="#222" stroke-width="0.22">O-59</text>
<text x="251.20" y="552.30" font-size="8.3" font-weight="normal" text-anchor="middle" fill="#222" textLength="18.00" lengthAdjust="spacingAndGlyphs" stroke="#222" stroke-width="0.22">O-83</text>
<text x="304.60" y="552.30" font-size="8.3" font-weight="normal" text-anchor="middle" fill="#222" textLength="18.00" lengthAdjust="spacingAndGlyphs" stroke="#222" stroke-width="0.22">O-55</text>
<text x="356.90" y="552.30" font-size="8.3" font-weight="normal" text-anchor="middle" fill="#222" textLength="18.00" lengthAdjust="spacingAndGlyphs" stroke="#222" stroke-width="0.22">O-53</text>
<text x="102.10" y="605.40" font-size="8.3" font-weight="normal" text-anchor="middle" fill="#222" textLength="18.00" lengthAdjust="spacingAndGlyphs" stroke="#222" stroke-width="0.22">O-58</text>
<text x="150.20" y="605.40" font-size="8.3" font-weight="normal" text-anchor="middle" fill="#222" textLength="18.00" lengthAdjust="spacingAndGlyphs" stroke="#222" stroke-width="0.22">O-37</text>
<text x="200.20" y="605.40" font-size="8.3" font-weight="normal" text-anchor="middle" fill="#222" textLength="18.00" lengthAdjust="spacingAndGlyphs" stroke="#222" stroke-width="0.22">O-25</text>
<text x="250.80" y="605.40" font-size="8.3" font-weight="normal" text-anchor="middle" fill="#222" textLength="13.00" lengthAdjust="spacingAndGlyphs" stroke="#222" stroke-width="0.22">O-5</text>
<text x="304.00" y="605.40" font-size="8.3" font-weight="normal" text-anchor="middle" fill="#222" textLength="18.00" lengthAdjust="spacingAndGlyphs" stroke="#222" stroke-width="0.22">O-44</text>
<text x="356.90" y="605.40" font-size="8.3" font-weight="normal" text-anchor="middle" fill="#222" textLength="18.00" lengthAdjust="spacingAndGlyphs" stroke="#222" stroke-width="0.22">O-34</text>
<text x="102.10" y="662.80" font-size="8.3" font-weight="normal" text-anchor="middle" fill="#222" textLength="18.00" lengthAdjust="spacingAndGlyphs" stroke="#222" stroke-width="0.22">O-33</text>
<text x="147.70" y="662.80" font-size="8.3" font-weight="normal" text-anchor="middle" fill="#222" textLength="13.00" lengthAdjust="spacingAndGlyphs" stroke="#222" stroke-width="0.22">O-7</text>
<text x="197.70" y="662.80" font-size="8.3" font-weight="normal" text-anchor="middle" fill="#222" textLength="18.00" lengthAdjust="spacingAndGlyphs" stroke="#222" stroke-width="0.22">O-17</text>
<text x="250.20" y="662.80" font-size="8.3" font-weight="normal" text-anchor="middle" fill="#222" textLength="18.00" lengthAdjust="spacingAndGlyphs" stroke="#222" stroke-width="0.22">O-45</text>
<text x="304.30" y="662.80" font-size="8.3" font-weight="normal" text-anchor="middle" fill="#222" textLength="18.00" lengthAdjust="spacingAndGlyphs" stroke="#222" stroke-width="0.22">O-18</text>
<text x="357.20" y="662.80" font-size="8.3" font-weight="normal" text-anchor="middle" fill="#222" textLength="18.00" lengthAdjust="spacingAndGlyphs" stroke="#222" stroke-width="0.22">O-46</text>
<rect x="235.2" y="568.8" width="35.2" height="39.7" rx="0.8" fill="none" stroke="#E8505A" stroke-width="0.9"/>
<rect x="129.4" y="619.6" width="42.8" height="46.8" rx="0.8" fill="none" stroke="#E8505A" stroke-width="0.9"/>
<text x="401.30" y="493.80" font-size="10.5" font-weight="bold" text-anchor="start" fill="#231F20" >F</text>
<line x1="441.70" y1="520.00" x2="441.70" y2="613.80" stroke="#333" stroke-width="0.9" />
<line x1="441.70" y1="613.80" x2="510.50" y2="613.80" stroke="#333" stroke-width="0.9" />
<line x1="438.40" y1="613.80" x2="441.70" y2="613.80" stroke="#333" stroke-width="0.8" />
<text x="436.40" y="616.60" font-size="7.8" font-weight="normal" text-anchor="end" fill="#333" >0</text>
<line x1="438.40" y1="582.52" x2="441.70" y2="582.52" stroke="#333" stroke-width="0.8" />
<text x="436.40" y="585.32" font-size="7.8" font-weight="normal" text-anchor="end" fill="#333" >5</text>
<line x1="438.40" y1="551.24" x2="441.70" y2="551.24" stroke="#333" stroke-width="0.8" />
<text x="436.40" y="554.04" font-size="7.8" font-weight="normal" text-anchor="end" fill="#333" >10</text>
<line x1="438.40" y1="519.96" x2="441.70" y2="519.96" stroke="#333" stroke-width="0.8" />
<text x="436.40" y="522.76" font-size="7.8" font-weight="normal" text-anchor="end" fill="#333" >15</text>
<line x1="458.00" y1="613.80" x2="458.00" y2="617.00" stroke="#333" stroke-width="0.8" />
<line x1="494.50" y1="613.80" x2="494.50" y2="617.00" stroke="#333" stroke-width="0.8" />
<text x="458.00" y="627.10" font-size="8.6" font-weight="normal" text-anchor="middle" fill="#333" textLength="10.80" lengthAdjust="spacingAndGlyphs" >O5</text>
<text x="494.50" y="627.10" font-size="8.6" font-weight="normal" text-anchor="middle" fill="#333" textLength="10.60" lengthAdjust="spacingAndGlyphs" >O7</text>
<text transform="translate(409.0,567.2) rotate(-90)" font-size="8.6" text-anchor="middle" fill="#333" textLength="80.8" lengthAdjust="spacingAndGlyphs">Normalized fluorescence</text>
<text transform="translate(421.3,567.2) rotate(-90)" font-size="8.6" text-anchor="middle" fill="#333" textLength="63.9" lengthAdjust="spacingAndGlyphs">(anti-IgG antibody)</text>
<rect x="447.0" y="577.3" width="8.8" height="36.50" fill="#A7C58B" stroke="#6f8f5a" stroke-width="0.6"/>
<rect x="460.4" y="559.7" width="8.6" height="54.10" fill="#1D6A50" stroke="#0f4a36" stroke-width="0.6"/>
<rect x="483.2" y="598.0" width="9.0" height="15.80" fill="#A7C58B" stroke="#6f8f5a" stroke-width="0.6"/>
<rect x="497.1" y="571.2" width="8.6" height="42.60" fill="#1D6A50" stroke="#0f4a36" stroke-width="0.6"/>
<circle cx="448.1" cy="558.8" r="1.25" fill="#111"/>
<circle cx="454.5" cy="558.8" r="1.25" fill="#111"/>
<circle cx="451.3" cy="568.9" r="1.25" fill="#111"/>
<circle cx="451.3" cy="581.1" r="1.25" fill="#111"/>
<circle cx="448.1" cy="585.7" r="1.25" fill="#111"/>
<circle cx="454.5" cy="587.8" r="1.25" fill="#111"/>
<circle cx="451.3" cy="598.6" r="1.25" fill="#111"/>
<circle cx="463.7" cy="546.9" r="1.25" fill="#111"/>
<circle cx="465.7" cy="549.8" r="1.25" fill="#111"/>
<circle cx="463.7" cy="551.1" r="1.25" fill="#111"/>
<circle cx="463.1" cy="558.8" r="1.25" fill="#111"/>
<circle cx="466.4" cy="558.8" r="1.25" fill="#111"/>
<circle cx="461.7" cy="568.9" r="1.25" fill="#111"/>
<circle cx="464.0" cy="567.6" r="1.25" fill="#111"/>
<circle cx="466.6" cy="567.2" r="1.25" fill="#111"/>
<circle cx="468.3" cy="566.7" r="1.25" fill="#111"/>
<circle cx="487.6" cy="577.9" r="1.25" fill="#111"/>
<circle cx="484.6" cy="589.7" r="1.25" fill="#111"/>
<circle cx="490.9" cy="587.8" r="1.25" fill="#111"/>
<circle cx="487.6" cy="599.6" r="1.25" fill="#111"/>
<circle cx="487.6" cy="603.0" r="1.25" fill="#111"/>
<circle cx="484.6" cy="613.2" r="1.25" fill="#111"/>
<circle cx="490.9" cy="612.6" r="1.25" fill="#111"/>
<circle cx="501.3" cy="554.2" r="1.25" fill="#111"/>
<circle cx="501.3" cy="561.0" r="1.25" fill="#111"/>
<circle cx="498.0" cy="563.7" r="1.25" fill="#111"/>
<circle cx="504.6" cy="564.1" r="1.25" fill="#111"/>
<circle cx="498.0" cy="567.0" r="1.25" fill="#111"/>
<circle cx="504.6" cy="568.9" r="1.25" fill="#111"/>
<circle cx="498.0" cy="572.0" r="1.25" fill="#111"/>
<circle cx="501.3" cy="587.8" r="1.25" fill="#111"/>
<circle cx="501.3" cy="601.6" r="1.25" fill="#111"/>
<line x1="449.80" y1="535.00" x2="463.80" y2="535.00" stroke="#555" stroke-width="1.1" />
<text x="456.90" y="536.20" font-size="10" font-weight="normal" text-anchor="middle" fill="#333" >*</text>
<line x1="485.10" y1="545.00" x2="499.00" y2="545.00" stroke="#555" stroke-width="1.1" />
<text x="492.30" y="546.10" font-size="10" font-weight="normal" text-anchor="middle" fill="#333" >**</text>
<rect x="442.0" y="640.0" width="8.5" height="8.7" fill="#A7C58B" stroke="#6f8f5a" stroke-width="0.6"/>
<rect x="442.0" y="651.8" width="8.5" height="8.4" fill="#1D6A50" stroke="#0f4a36" stroke-width="0.6"/>
<text x="453.80" y="647.30" font-size="7.8" font-weight="normal" text-anchor="start" fill="#333" textLength="25.00" lengthAdjust="spacingAndGlyphs" >Healthy</text>
<text x="453.80" y="658.80" font-size="7.8" font-weight="normal" text-anchor="start" fill="#333" textLength="10.80" lengthAdjust="spacingAndGlyphs" >ITP</text></svg>
</body></html>
